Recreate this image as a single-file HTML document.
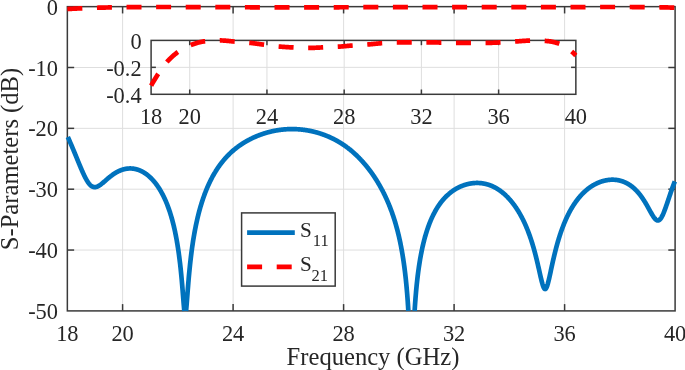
<!DOCTYPE html>
<html><head><meta charset="utf-8"><style>
html,body{margin:0;padding:0;background:#fff;overflow:hidden}
svg{display:block;font-family:"Liberation Serif",serif;fill:#262626;will-change:transform}
</style></head><body>
<svg width="685" height="370" viewBox="0 0 685 370">
<rect width="685" height="370" fill="#fff"/>
<line x1="122.60" y1="6.65" x2="122.60" y2="310.90" stroke="#dedede" stroke-width="1.0" />
<line x1="233.10" y1="6.65" x2="233.10" y2="310.90" stroke="#dedede" stroke-width="1.0" />
<line x1="343.60" y1="6.65" x2="343.60" y2="310.90" stroke="#dedede" stroke-width="1.0" />
<line x1="454.10" y1="6.65" x2="454.10" y2="310.90" stroke="#dedede" stroke-width="1.0" />
<line x1="564.60" y1="6.65" x2="564.60" y2="310.90" stroke="#dedede" stroke-width="1.0" />
<line x1="67.35" y1="67.50" x2="675.10" y2="67.50" stroke="#dedede" stroke-width="1.0" />
<line x1="67.35" y1="128.35" x2="675.10" y2="128.35" stroke="#dedede" stroke-width="1.0" />
<line x1="67.35" y1="189.20" x2="675.10" y2="189.20" stroke="#dedede" stroke-width="1.0" />
<line x1="67.35" y1="250.05" x2="675.10" y2="250.05" stroke="#dedede" stroke-width="1.0" />
<rect x="67.35" y="6.65" width="607.75" height="304.25" fill="none" stroke="#3a3a3a" stroke-width="1.5"/>
<line x1="122.60" y1="310.90" x2="122.60" y2="304.10" stroke="#3a3a3a" stroke-width="1.5" />
<line x1="122.60" y1="6.65" x2="122.60" y2="13.45" stroke="#3a3a3a" stroke-width="1.5" />
<line x1="233.10" y1="310.90" x2="233.10" y2="304.10" stroke="#3a3a3a" stroke-width="1.5" />
<line x1="233.10" y1="6.65" x2="233.10" y2="13.45" stroke="#3a3a3a" stroke-width="1.5" />
<line x1="343.60" y1="310.90" x2="343.60" y2="304.10" stroke="#3a3a3a" stroke-width="1.5" />
<line x1="343.60" y1="6.65" x2="343.60" y2="13.45" stroke="#3a3a3a" stroke-width="1.5" />
<line x1="454.10" y1="310.90" x2="454.10" y2="304.10" stroke="#3a3a3a" stroke-width="1.5" />
<line x1="454.10" y1="6.65" x2="454.10" y2="13.45" stroke="#3a3a3a" stroke-width="1.5" />
<line x1="564.60" y1="310.90" x2="564.60" y2="304.10" stroke="#3a3a3a" stroke-width="1.5" />
<line x1="564.60" y1="6.65" x2="564.60" y2="13.45" stroke="#3a3a3a" stroke-width="1.5" />
<line x1="67.35" y1="67.50" x2="74.15" y2="67.50" stroke="#3a3a3a" stroke-width="1.5" />
<line x1="675.10" y1="67.50" x2="668.30" y2="67.50" stroke="#3a3a3a" stroke-width="1.5" />
<line x1="67.35" y1="128.35" x2="74.15" y2="128.35" stroke="#3a3a3a" stroke-width="1.5" />
<line x1="675.10" y1="128.35" x2="668.30" y2="128.35" stroke="#3a3a3a" stroke-width="1.5" />
<line x1="67.35" y1="189.20" x2="74.15" y2="189.20" stroke="#3a3a3a" stroke-width="1.5" />
<line x1="675.10" y1="189.20" x2="668.30" y2="189.20" stroke="#3a3a3a" stroke-width="1.5" />
<line x1="67.35" y1="250.05" x2="74.15" y2="250.05" stroke="#3a3a3a" stroke-width="1.5" />
<line x1="675.10" y1="250.05" x2="668.30" y2="250.05" stroke="#3a3a3a" stroke-width="1.5" />
<text x="67.35" y="341.00" text-anchor="middle" font-size="22.4" >18</text>
<text x="122.60" y="341.00" text-anchor="middle" font-size="22.4" >20</text>
<text x="233.10" y="341.00" text-anchor="middle" font-size="22.4" >24</text>
<text x="343.60" y="341.00" text-anchor="middle" font-size="22.4" >28</text>
<text x="454.10" y="341.00" text-anchor="middle" font-size="22.4" >32</text>
<text x="564.60" y="341.00" text-anchor="middle" font-size="22.4" >36</text>
<text x="675.10" y="341.00" text-anchor="middle" font-size="22.4" >40</text>
<text x="58.00" y="14.75" text-anchor="end" font-size="22.4" >0</text>
<text x="58.00" y="75.60" text-anchor="end" font-size="22.4" >-10</text>
<text x="58.00" y="136.45" text-anchor="end" font-size="22.4" >-20</text>
<text x="58.00" y="197.30" text-anchor="end" font-size="22.4" >-30</text>
<text x="58.00" y="258.15" text-anchor="end" font-size="22.4" >-40</text>
<text x="58.00" y="319.00" text-anchor="end" font-size="22.4" >-50</text>
<text x="373.00" y="364.70" text-anchor="middle" font-size="24.6" >Frequency (GHz)</text>
<text transform="translate(17.6,159) rotate(-90)" text-anchor="middle" font-size="24.6">S-Parameters (dB)</text>
<path d="M67.80,136.92 L68.08,137.54 L68.35,138.15 L68.63,138.77 L68.90,139.39 L69.18,140.02 L69.46,140.64 L69.73,141.27 L70.01,141.90 L70.28,142.54 L70.56,143.18 L70.83,143.82 L71.11,144.46 L71.39,145.10 L71.66,145.75 L71.94,146.40 L72.21,147.05 L72.49,147.71 L72.77,148.36 L73.04,149.02 L73.32,149.68 L73.59,150.35 L73.87,151.01 L74.15,151.67 L74.42,152.34 L74.70,153.01 L74.97,153.68 L75.25,154.35 L75.53,155.02 L75.80,155.70 L76.08,156.37 L76.35,157.04 L76.63,157.72 L76.90,158.39 L77.18,159.07 L77.46,159.74 L77.73,160.42 L78.01,161.09 L78.28,161.77 L78.56,162.44 L78.84,163.11 L79.11,163.78 L79.39,164.44 L79.66,165.11 L79.94,165.77 L80.22,166.43 L80.49,167.09 L80.77,167.74 L81.04,168.39 L81.32,169.04 L81.60,169.68 L81.87,170.31 L82.15,170.94 L82.42,171.57 L82.70,172.18 L82.98,172.80 L83.25,173.40 L83.53,174.00 L83.80,174.59 L84.08,175.17 L84.35,175.74 L84.63,176.30 L84.91,176.85 L85.18,177.40 L85.46,177.93 L85.73,178.45 L86.01,178.96 L86.29,179.45 L86.56,179.94 L86.84,180.41 L87.11,180.86 L87.39,181.31 L87.67,181.73 L87.94,182.15 L88.22,182.55 L88.49,182.93 L88.77,183.30 L89.04,183.65 L89.32,183.98 L89.60,184.30 L89.87,184.60 L90.15,184.89 L90.42,185.15 L90.70,185.40 L90.98,185.64 L91.25,185.85 L91.53,186.05 L91.80,186.23 L92.08,186.40 L92.36,186.54 L92.63,186.67 L92.91,186.79 L93.18,186.88 L93.46,186.96 L93.74,187.03 L94.01,187.08 L94.29,187.11 L94.56,187.13 L94.84,187.13 L95.11,187.12 L95.39,187.10 L95.67,187.06 L95.94,187.01 L96.22,186.94 L96.49,186.87 L96.77,186.78 L97.05,186.68 L97.32,186.57 L97.60,186.46 L97.87,186.33 L98.15,186.19 L98.43,186.04 L98.70,185.89 L98.98,185.72 L99.25,185.55 L99.53,185.37 L99.81,185.19 L100.08,185.00 L100.36,184.80 L100.63,184.60 L100.91,184.40 L101.19,184.19 L101.46,183.97 L101.74,183.75 L102.01,183.53 L102.29,183.30 L102.56,183.08 L102.84,182.85 L103.12,182.61 L103.39,182.38 L103.67,182.14 L103.94,181.90 L104.22,181.67 L104.50,181.43 L104.77,181.19 L105.05,180.95 L105.32,180.70 L105.60,180.46 L105.88,180.22 L106.15,179.98 L106.43,179.74 L106.70,179.50 L106.98,179.27 L107.25,179.03 L107.53,178.79 L107.81,178.56 L108.08,178.33 L108.36,178.09 L108.63,177.86 L108.91,177.63 L109.19,177.41 L109.46,177.18 L109.74,176.96 L110.01,176.74 L110.29,176.52 L110.57,176.31 L110.84,176.09 L111.12,175.88 L111.39,175.67 L111.67,175.47 L111.95,175.26 L112.22,175.06 L112.50,174.86 L112.77,174.67 L113.05,174.47 L113.32,174.28 L113.60,174.10 L113.88,173.91 L114.15,173.73 L114.43,173.55 L114.70,173.37 L114.98,173.20 L115.26,173.03 L115.53,172.86 L115.81,172.70 L116.08,172.54 L116.36,172.38 L116.64,172.23 L116.91,172.07 L117.19,171.93 L117.46,171.78 L117.74,171.64 L118.02,171.50 L118.29,171.36 L118.57,171.23 L118.84,171.10 L119.12,170.97 L119.40,170.85 L119.67,170.73 L119.95,170.61 L120.22,170.49 L120.50,170.38 L120.77,170.27 L121.05,170.17 L121.33,170.07 L121.60,169.97 L121.88,169.87 L122.15,169.78 L122.43,169.69 L122.71,169.60 L122.98,169.52 L123.26,169.44 L123.53,169.36 L123.81,169.29 L124.09,169.22 L124.36,169.15 L124.64,169.09 L124.91,169.03 L125.19,168.97 L125.46,168.91 L125.74,168.86 L126.02,168.81 L126.29,168.77 L126.57,168.73 L126.84,168.69 L127.12,168.65 L127.40,168.62 L127.67,168.59 L127.95,168.56 L128.22,168.54 L128.50,168.52 L128.78,168.50 L129.05,168.49 L129.33,168.48 L129.60,168.47 L129.88,168.47 L130.16,168.46 L130.43,168.47 L130.71,168.47 L130.98,168.48 L131.26,168.49 L131.53,168.51 L131.81,168.52 L132.09,168.54 L132.36,168.57 L132.64,168.60 L132.91,168.63 L133.19,168.66 L133.47,168.70 L133.74,168.74 L134.02,168.78 L134.29,168.83 L134.57,168.88 L134.85,168.93 L135.12,168.99 L135.40,169.04 L135.67,169.11 L135.95,169.17 L136.23,169.24 L136.50,169.32 L136.78,169.39 L137.05,169.47 L137.33,169.55 L137.61,169.64 L137.88,169.73 L138.16,169.82 L138.43,169.92 L138.71,170.02 L138.98,170.12 L139.26,170.22 L139.54,170.33 L139.81,170.45 L140.09,170.56 L140.36,170.68 L140.64,170.81 L140.92,170.93 L141.19,171.06 L141.47,171.20 L141.74,171.34 L142.02,171.48 L142.30,171.62 L142.57,171.77 L142.85,171.92 L143.12,172.08 L143.40,172.24 L143.68,172.40 L143.95,172.57 L144.23,172.74 L144.50,172.91 L144.78,173.09 L145.05,173.27 L145.33,173.45 L145.61,173.64 L145.88,173.83 L146.16,174.03 L146.43,174.23 L146.71,174.44 L146.99,174.65 L147.26,174.86 L147.54,175.07 L147.81,175.29 L148.09,175.52 L148.37,175.75 L148.64,175.98 L148.92,176.22 L149.19,176.46 L149.47,176.70 L149.74,176.95 L150.02,177.21 L150.30,177.47 L150.57,177.73 L150.85,178.00 L151.12,178.27 L151.40,178.55 L151.68,178.83 L151.95,179.11 L152.23,179.40 L152.50,179.70 L152.78,180.00 L153.06,180.30 L153.33,180.61 L153.61,180.93 L153.88,181.25 L154.16,181.57 L154.44,181.91 L154.71,182.24 L154.99,182.58 L155.26,182.93 L155.54,183.28 L155.82,183.64 L156.09,184.00 L156.37,184.37 L156.64,184.74 L156.92,185.12 L157.19,185.51 L157.47,185.90 L157.75,186.30 L158.02,186.70 L158.30,187.11 L158.57,187.53 L158.85,187.96 L159.13,188.39 L159.40,188.82 L159.68,189.27 L159.95,189.72 L160.23,190.18 L160.51,190.64 L160.78,191.11 L161.06,191.59 L161.33,192.08 L161.61,192.58 L161.88,193.08 L162.16,193.59 L162.44,194.11 L162.71,194.64 L162.99,195.18 L163.26,195.73 L163.54,196.28 L163.82,196.84 L164.09,197.42 L164.37,198.00 L164.64,198.59 L164.92,199.20 L165.20,199.81 L165.47,200.44 L165.75,201.07 L166.02,201.72 L166.30,202.37 L166.58,203.04 L166.85,203.72 L167.13,204.42 L167.40,205.12 L167.68,205.84 L167.95,206.57 L168.23,207.32 L168.51,208.08 L168.78,208.85 L169.06,209.64 L169.33,210.45 L169.61,211.27 L169.89,212.11 L170.16,212.96 L170.44,213.84 L170.71,214.73 L170.99,215.63 L171.27,216.56 L171.54,217.51 L171.82,218.48 L172.09,219.47 L172.37,220.49 L172.65,221.52 L172.92,222.58 L173.20,223.67 L173.47,224.78 L173.75,225.92 L174.03,227.09 L174.30,228.29 L174.58,229.52 L174.85,230.78 L175.13,232.08 L175.40,233.41 L175.68,234.78 L175.96,236.19 L176.23,237.64 L176.51,239.13 L176.78,240.67 L177.06,242.26 L177.34,243.90 L177.61,245.59 L177.89,247.34 L178.16,249.15 L178.44,251.02 L178.72,252.96 L178.99,254.98 L179.27,257.07 L179.54,259.24 L179.82,261.49 L180.10,263.84 L180.37,266.28 L180.65,268.83 L180.92,271.48 L181.20,274.25 L181.47,277.14 L181.75,280.14 L182.03,283.27 L182.30,286.51 L182.58,289.86 L182.85,293.30 L183.13,296.80 L183.41,300.30 L183.68,303.74 L183.96,307.00 L184.23,309.93 L184.34,310.90 M186.04,310.90 L186.16,309.79 L186.44,306.79 L186.72,303.45 L186.99,299.92 L187.27,296.32 L187.54,292.72 L187.82,289.18 L188.10,285.72 L188.37,282.37 L188.65,279.14 L188.92,276.03 L189.20,273.03 L189.48,270.16 L189.75,267.40 L190.03,264.75 L190.30,262.20 L190.58,259.74 L190.86,257.38 L191.13,255.11 L191.41,252.91 L191.68,250.80 L191.96,248.75 L192.23,246.78 L192.51,244.86 L192.79,243.01 L193.06,241.22 L193.34,239.48 L193.61,237.79 L193.89,236.15 L194.17,234.55 L194.44,233.00 L194.72,231.49 L194.99,230.02 L195.27,228.58 L195.55,227.19 L195.82,225.82 L196.10,224.49 L196.37,223.20 L196.65,221.93 L196.93,220.69 L197.20,219.47 L197.48,218.29 L197.75,217.12 L198.03,215.99 L198.31,214.87 L198.58,213.78 L198.86,212.71 L199.13,211.67 L199.41,210.64 L199.68,209.63 L199.96,208.64 L200.24,207.67 L200.51,206.71 L200.79,205.78 L201.06,204.85 L201.34,203.95 L201.62,203.06 L201.89,202.19 L202.17,201.33 L202.44,200.48 L202.72,199.65 L203.00,198.83 L203.27,198.02 L203.55,197.23 L203.82,196.45 L204.10,195.68 L204.38,194.92 L204.65,194.18 L204.93,193.44 L205.20,192.72 L205.48,192.01 L205.75,191.30 L206.03,190.61 L206.31,189.93 L206.58,189.25 L206.86,188.59 L207.13,187.93 L207.41,187.29 L207.69,186.65 L207.96,186.02 L208.24,185.40 L208.51,184.78 L208.79,184.18 L209.07,183.58 L209.34,182.99 L209.62,182.41 L209.89,181.84 L210.17,181.27 L210.45,180.71 L210.72,180.16 L211.00,179.61 L211.27,179.07 L211.55,178.54 L211.82,178.01 L212.10,177.49 L212.38,176.98 L212.65,176.47 L212.93,175.97 L213.20,175.47 L213.48,174.98 L213.76,174.50 L214.03,174.02 L214.31,173.55 L214.58,173.08 L214.86,172.61 L215.14,172.16 L215.41,171.70 L215.69,171.26 L215.96,170.81 L216.24,170.38 L216.52,169.94 L216.79,169.52 L217.07,169.09 L217.34,168.67 L217.62,168.26 L217.89,167.85 L218.17,167.45 L218.45,167.04 L218.72,166.65 L219.00,166.26 L219.27,165.87 L219.55,165.48 L219.83,165.10 L220.10,164.73 L220.38,164.35 L220.65,163.98 L220.93,163.62 L221.21,163.26 L221.48,162.90 L221.76,162.55 L222.03,162.20 L222.31,161.85 L222.58,161.50 L222.86,161.16 L223.14,160.83 L223.41,160.49 L223.69,160.16 L223.96,159.84 L224.24,159.51 L224.52,159.19 L224.79,158.88 L225.07,158.56 L225.34,158.25 L225.62,157.94 L225.90,157.64 L226.17,157.34 L226.45,157.04 L226.72,156.74 L227.00,156.45 L227.28,156.16 L227.55,155.87 L227.83,155.58 L228.10,155.30 L228.38,155.02 L228.65,154.74 L228.93,154.47 L229.21,154.20 L229.48,153.93 L229.76,153.66 L230.03,153.39 L230.31,153.13 L230.59,152.87 L230.86,152.61 L231.14,152.36 L231.41,152.11 L231.69,151.86 L231.97,151.61 L232.24,151.36 L232.52,151.12 L232.79,150.88 L233.07,150.64 L233.35,150.40 L233.62,150.16 L233.90,149.93 L234.17,149.70 L234.45,149.47 L234.73,149.24 L235.00,149.02 L235.28,148.80 L235.55,148.58 L235.83,148.36 L236.10,148.14 L236.38,147.92 L236.66,147.71 L236.93,147.50 L237.21,147.29 L237.48,147.08 L237.76,146.88 L238.04,146.67 L238.31,146.47 L238.59,146.27 L238.86,146.07 L239.14,145.87 L239.42,145.68 L239.69,145.48 L239.97,145.29 L240.24,145.10 L240.52,144.91 L240.80,144.73 L241.07,144.54 L241.35,144.36 L241.62,144.17 L241.90,143.99 L242.17,143.81 L242.45,143.63 L242.73,143.46 L243.00,143.28 L243.28,143.11 L243.55,142.94 L243.83,142.77 L244.11,142.60 L244.38,142.43 L244.66,142.26 L244.93,142.10 L245.21,141.93 L245.49,141.77 L245.76,141.61 L246.04,141.45 L246.31,141.29 L246.59,141.13 L246.87,140.98 L247.14,140.82 L247.42,140.67 L247.69,140.52 L247.97,140.37 L248.24,140.22 L248.52,140.07 L248.80,139.92 L249.07,139.77 L249.35,139.63 L249.62,139.48 L249.90,139.34 L250.18,139.20 L250.45,139.06 L250.73,138.92 L251.00,138.78 L251.28,138.65 L251.56,138.51 L251.83,138.38 L252.11,138.24 L252.38,138.11 L252.66,137.98 L252.94,137.85 L253.21,137.72 L253.49,137.59 L253.76,137.47 L254.04,137.34 L254.31,137.22 L254.59,137.09 L254.87,136.97 L255.14,136.85 L255.42,136.73 L255.69,136.61 L255.97,136.49 L256.25,136.37 L256.52,136.26 L256.80,136.14 L257.07,136.03 L257.35,135.92 L257.63,135.80 L257.90,135.69 L258.18,135.58 L258.45,135.48 L258.73,135.37 L259.00,135.26 L259.28,135.15 L259.56,135.05 L259.83,134.95 L260.11,134.84 L260.38,134.74 L260.66,134.64 L260.94,134.54 L261.21,134.44 L261.49,134.34 L261.76,134.25 L262.04,134.15 L262.32,134.06 L262.59,133.96 L262.87,133.87 L263.14,133.78 L263.42,133.69 L263.70,133.60 L263.97,133.51 L264.25,133.42 L264.52,133.33 L264.80,133.25 L265.07,133.16 L265.35,133.08 L265.63,132.99 L265.90,132.91 L266.18,132.83 L266.45,132.75 L266.73,132.67 L267.01,132.59 L267.28,132.51 L267.56,132.44 L267.83,132.36 L268.11,132.28 L268.39,132.21 L268.66,132.14 L268.94,132.06 L269.21,131.99 L269.49,131.92 L269.77,131.85 L270.04,131.78 L270.32,131.72 L270.59,131.65 L270.87,131.58 L271.15,131.52 L271.42,131.45 L271.70,131.39 L271.97,131.33 L272.25,131.26 L272.52,131.20 L272.80,131.14 L273.08,131.08 L273.35,131.03 L273.63,130.97 L273.90,130.91 L274.18,130.86 L274.46,130.80 L274.73,130.75 L275.01,130.70 L275.28,130.64 L275.56,130.59 L275.84,130.54 L276.11,130.49 L276.39,130.44 L276.66,130.40 L276.94,130.35 L277.21,130.30 L277.49,130.26 L277.77,130.22 L278.04,130.17 L278.32,130.13 L278.59,130.09 L278.87,130.05 L279.15,130.01 L279.42,129.97 L279.70,129.93 L279.97,129.89 L280.25,129.86 L280.53,129.82 L280.80,129.79 L281.08,129.75 L281.35,129.72 L281.63,129.69 L281.91,129.66 L282.18,129.62 L282.46,129.60 L282.73,129.57 L283.01,129.54 L283.29,129.51 L283.56,129.49 L283.84,129.46 L284.11,129.44 L284.39,129.41 L284.66,129.39 L284.94,129.37 L285.22,129.35 L285.49,129.33 L285.77,129.31 L286.04,129.29 L286.32,129.27 L286.60,129.25 L286.87,129.24 L287.15,129.22 L287.42,129.21 L287.70,129.19 L287.98,129.18 L288.25,129.17 L288.53,129.16 L288.80,129.15 L289.08,129.14 L289.36,129.13 L289.63,129.12 L289.91,129.12 L290.18,129.11 L290.46,129.10 L290.73,129.10 L291.01,129.10 L291.29,129.09 L291.56,129.09 L291.84,129.09 L292.11,129.09 L292.39,129.09 L292.67,129.09 L292.94,129.10 L293.22,129.10 L293.49,129.10 L293.77,129.11 L294.05,129.11 L294.32,129.12 L294.60,129.13 L294.87,129.14 L295.15,129.14 L295.43,129.15 L295.70,129.16 L295.98,129.18 L296.25,129.19 L296.53,129.20 L296.80,129.22 L297.08,129.23 L297.36,129.25 L297.63,129.26 L297.91,129.28 L298.18,129.30 L298.46,129.32 L298.74,129.34 L299.01,129.36 L299.29,129.38 L299.56,129.40 L299.84,129.42 L300.12,129.45 L300.39,129.47 L300.67,129.50 L300.94,129.53 L301.22,129.55 L301.49,129.58 L301.77,129.61 L302.05,129.64 L302.32,129.67 L302.60,129.70 L302.87,129.74 L303.15,129.77 L303.43,129.80 L303.70,129.84 L303.98,129.87 L304.25,129.91 L304.53,129.95 L304.81,129.99 L305.08,130.03 L305.36,130.07 L305.63,130.11 L305.91,130.15 L306.19,130.19 L306.46,130.23 L306.74,130.28 L307.01,130.32 L307.29,130.37 L307.56,130.42 L307.84,130.46 L308.12,130.51 L308.39,130.56 L308.67,130.61 L308.94,130.66 L309.22,130.72 L309.50,130.77 L309.77,130.82 L310.05,130.88 L310.32,130.93 L310.60,130.99 L310.88,131.05 L311.15,131.11 L311.43,131.16 L311.70,131.22 L311.98,131.29 L312.26,131.35 L312.53,131.41 L312.81,131.47 L313.08,131.54 L313.36,131.60 L313.63,131.67 L313.91,131.74 L314.19,131.80 L314.46,131.87 L314.74,131.94 L315.01,132.01 L315.29,132.09 L315.57,132.16 L315.84,132.23 L316.12,132.31 L316.39,132.38 L316.67,132.46 L316.95,132.53 L317.22,132.61 L317.50,132.69 L317.77,132.77 L318.05,132.85 L318.33,132.93 L318.60,133.02 L318.88,133.10 L319.15,133.18 L319.43,133.27 L319.71,133.36 L319.98,133.44 L320.26,133.53 L320.53,133.62 L320.81,133.71 L321.08,133.80 L321.36,133.89 L321.64,133.99 L321.91,134.08 L322.19,134.18 L322.46,134.27 L322.74,134.37 L323.02,134.47 L323.29,134.57 L323.57,134.67 L323.84,134.77 L324.12,134.87 L324.40,134.97 L324.67,135.08 L324.95,135.18 L325.22,135.29 L325.50,135.39 L325.78,135.50 L326.05,135.61 L326.33,135.72 L326.60,135.83 L326.88,135.95 L327.15,136.06 L327.43,136.17 L327.71,136.29 L327.98,136.41 L328.26,136.52 L328.53,136.64 L328.81,136.76 L329.09,136.88 L329.36,137.00 L329.64,137.13 L329.91,137.25 L330.19,137.38 L330.47,137.50 L330.74,137.63 L331.02,137.76 L331.29,137.89 L331.57,138.02 L331.85,138.15 L332.12,138.28 L332.40,138.42 L332.67,138.55 L332.95,138.69 L333.22,138.83 L333.50,138.97 L333.78,139.11 L334.05,139.25 L334.33,139.39 L334.60,139.53 L334.88,139.68 L335.16,139.83 L335.43,139.97 L335.71,140.12 L335.98,140.27 L336.26,140.42 L336.54,140.57 L336.81,140.73 L337.09,140.88 L337.36,141.04 L337.64,141.19 L337.92,141.35 L338.19,141.51 L338.47,141.67 L338.74,141.84 L339.02,142.00 L339.29,142.16 L339.57,142.33 L339.85,142.50 L340.12,142.67 L340.40,142.84 L340.67,143.01 L340.95,143.18 L341.23,143.35 L341.50,143.53 L341.78,143.71 L342.05,143.89 L342.33,144.06 L342.61,144.25 L342.88,144.43 L343.16,144.61 L343.43,144.80 L343.71,144.98 L343.98,145.17 L344.26,145.36 L344.54,145.55 L344.81,145.74 L345.09,145.94 L345.36,146.13 L345.64,146.33 L345.92,146.53 L346.19,146.73 L346.47,146.93 L346.74,147.13 L347.02,147.34 L347.30,147.54 L347.57,147.75 L347.85,147.96 L348.12,148.17 L348.40,148.38 L348.68,148.59 L348.95,148.81 L349.23,149.03 L349.50,149.24 L349.78,149.46 L350.06,149.69 L350.33,149.91 L350.61,150.13 L350.88,150.36 L351.16,150.59 L351.43,150.82 L351.71,151.05 L351.99,151.28 L352.26,151.52 L352.54,151.76 L352.81,151.99 L353.09,152.23 L353.37,152.48 L353.64,152.72 L353.92,152.97 L354.19,153.21 L354.47,153.46 L354.75,153.71 L355.02,153.97 L355.30,154.22 L355.57,154.48 L355.85,154.74 L356.13,155.00 L356.40,155.26 L356.68,155.52 L356.95,155.79 L357.23,156.06 L357.50,156.33 L357.78,156.60 L358.06,156.87 L358.33,157.15 L358.61,157.42 L358.88,157.70 L359.16,157.98 L359.44,158.27 L359.71,158.55 L359.99,158.84 L360.26,159.13 L360.54,159.42 L360.82,159.71 L361.09,160.01 L361.37,160.30 L361.64,160.60 L361.92,160.90 L362.20,161.21 L362.47,161.51 L362.75,161.82 L363.02,162.13 L363.30,162.44 L363.57,162.76 L363.85,163.07 L364.13,163.39 L364.40,163.71 L364.68,164.03 L364.95,164.36 L365.23,164.68 L365.51,165.01 L365.78,165.34 L366.06,165.68 L366.33,166.01 L366.61,166.35 L366.89,166.69 L367.16,167.04 L367.44,167.38 L367.71,167.73 L367.99,168.08 L368.27,168.43 L368.54,168.79 L368.82,169.15 L369.09,169.51 L369.37,169.87 L369.64,170.23 L369.92,170.60 L370.20,170.97 L370.47,171.34 L370.75,171.72 L371.02,172.10 L371.30,172.48 L371.58,172.86 L371.85,173.25 L372.13,173.64 L372.40,174.03 L372.68,174.43 L372.96,174.83 L373.23,175.23 L373.51,175.63 L373.78,176.04 L374.06,176.45 L374.33,176.86 L374.61,177.28 L374.89,177.70 L375.16,178.12 L375.44,178.55 L375.71,178.97 L375.99,179.41 L376.27,179.84 L376.54,180.28 L376.82,180.72 L377.09,181.17 L377.37,181.62 L377.65,182.07 L377.92,182.53 L378.20,182.99 L378.47,183.46 L378.75,183.92 L379.03,184.40 L379.30,184.87 L379.58,185.35 L379.85,185.84 L380.13,186.33 L380.40,186.82 L380.68,187.31 L380.96,187.82 L381.23,188.32 L381.51,188.83 L381.78,189.35 L382.06,189.86 L382.34,190.39 L382.61,190.92 L382.89,191.45 L383.16,191.99 L383.44,192.53 L383.72,193.08 L383.99,193.64 L384.27,194.19 L384.54,194.76 L384.82,195.33 L385.10,195.91 L385.37,196.49 L385.65,197.08 L385.92,197.67 L386.20,198.27 L386.48,198.87 L386.75,199.49 L387.03,200.11 L387.30,200.73 L387.58,201.37 L387.85,202.00 L388.13,202.65 L388.41,203.31 L388.68,203.97 L388.96,204.64 L389.23,205.31 L389.51,206.00 L389.79,206.69 L390.06,207.40 L390.34,208.11 L390.61,208.83 L390.89,209.56 L391.17,210.29 L391.44,211.04 L391.72,211.80 L391.99,212.57 L392.27,213.35 L392.54,214.14 L392.82,214.94 L393.10,215.75 L393.37,216.58 L393.65,217.42 L393.92,218.27 L394.20,219.13 L394.48,220.01 L394.75,220.90 L395.03,221.80 L395.30,222.72 L395.58,223.66 L395.86,224.61 L396.13,225.58 L396.41,226.56 L396.68,227.57 L396.96,228.59 L397.24,229.63 L397.51,230.69 L397.79,231.77 L398.06,232.88 L398.34,234.00 L398.62,235.15 L398.89,236.33 L399.17,237.53 L399.44,238.76 L399.72,240.01 L399.99,241.29 L400.27,242.61 L400.55,243.96 L400.82,245.34 L401.10,246.75 L401.37,248.21 L401.65,249.70 L401.93,251.24 L402.20,252.82 L402.48,254.45 L402.75,256.12 L403.03,257.85 L403.31,259.64 L403.58,261.49 L403.86,263.40 L404.13,265.38 L404.41,267.44 L404.69,269.58 L404.96,271.80 L405.24,274.12 L405.51,276.54 L405.79,279.08 L406.06,281.74 L406.34,284.53 L406.62,287.48 L406.89,290.60 L407.17,293.90 L407.44,297.42 L407.72,301.19 L408.00,305.23 L408.27,309.60 L408.35,310.90 M414.62,310.90 L414.89,306.65 L415.17,302.68 L415.45,299.00 L415.72,295.56 L416.00,292.33 L416.27,289.30 L416.55,286.43 L416.82,283.72 L417.10,281.15 L417.38,278.70 L417.65,276.37 L417.93,274.14 L418.20,272.01 L418.48,269.96 L418.76,268.00 L419.03,266.11 L419.31,264.29 L419.58,262.54 L419.86,260.85 L420.14,259.21 L420.41,257.63 L420.69,256.10 L420.96,254.62 L421.24,253.19 L421.52,251.79 L421.79,250.44 L422.07,249.12 L422.34,247.84 L422.62,246.60 L422.90,245.39 L423.17,244.21 L423.45,243.06 L423.72,241.94 L424.00,240.85 L424.27,239.78 L424.55,238.74 L424.83,237.72 L425.10,236.73 L425.38,235.76 L425.65,234.81 L425.93,233.88 L426.21,232.97 L426.48,232.08 L426.76,231.21 L427.03,230.36 L427.31,229.52 L427.59,228.71 L427.86,227.90 L428.14,227.12 L428.41,226.35 L428.69,225.59 L428.97,224.85 L429.24,224.12 L429.52,223.41 L429.79,222.71 L430.07,222.02 L430.34,221.35 L430.62,220.69 L430.90,220.03 L431.17,219.39 L431.45,218.77 L431.72,218.15 L432.00,217.54 L432.28,216.95 L432.55,216.36 L432.83,215.78 L433.10,215.22 L433.38,214.66 L433.66,214.11 L433.93,213.57 L434.21,213.04 L434.48,212.52 L434.76,212.01 L435.04,211.50 L435.31,211.00 L435.59,210.52 L435.86,210.03 L436.14,209.56 L436.41,209.09 L436.69,208.63 L436.97,208.18 L437.24,207.74 L437.52,207.30 L437.79,206.87 L438.07,206.44 L438.35,206.02 L438.62,205.61 L438.90,205.20 L439.17,204.80 L439.45,204.41 L439.73,204.02 L440.00,203.64 L440.28,203.26 L440.55,202.89 L440.83,202.52 L441.11,202.16 L441.38,201.81 L441.66,201.46 L441.93,201.11 L442.21,200.77 L442.48,200.44 L442.76,200.11 L443.04,199.78 L443.31,199.46 L443.59,199.15 L443.86,198.83 L444.14,198.53 L444.42,198.23 L444.69,197.93 L444.97,197.63 L445.24,197.34 L445.52,197.06 L445.80,196.78 L446.07,196.50 L446.35,196.23 L446.62,195.96 L446.90,195.69 L447.18,195.43 L447.45,195.18 L447.73,194.92 L448.00,194.67 L448.28,194.43 L448.55,194.18 L448.83,193.94 L449.11,193.71 L449.38,193.47 L449.66,193.25 L449.93,193.02 L450.21,192.80 L450.49,192.58 L450.76,192.36 L451.04,192.15 L451.31,191.94 L451.59,191.74 L451.87,191.53 L452.14,191.33 L452.42,191.14 L452.69,190.94 L452.97,190.75 L453.24,190.56 L453.52,190.38 L453.80,190.19 L454.07,190.01 L454.35,189.84 L454.62,189.66 L454.90,189.49 L455.18,189.32 L455.45,189.16 L455.73,188.99 L456.00,188.83 L456.28,188.67 L456.56,188.52 L456.83,188.36 L457.11,188.21 L457.38,188.06 L457.66,187.92 L457.94,187.77 L458.21,187.63 L458.49,187.49 L458.76,187.36 L459.04,187.22 L459.31,187.09 L459.59,186.96 L459.87,186.83 L460.14,186.71 L460.42,186.59 L460.69,186.47 L460.97,186.35 L461.25,186.23 L461.52,186.12 L461.80,186.00 L462.07,185.89 L462.35,185.79 L462.63,185.68 L462.90,185.58 L463.18,185.47 L463.45,185.38 L463.73,185.28 L464.01,185.18 L464.28,185.09 L464.56,185.00 L464.83,184.91 L465.11,184.82 L465.38,184.74 L465.66,184.65 L465.94,184.57 L466.21,184.49 L466.49,184.42 L466.76,184.34 L467.04,184.27 L467.32,184.20 L467.59,184.13 L467.87,184.06 L468.14,183.99 L468.42,183.93 L468.70,183.87 L468.97,183.81 L469.25,183.75 L469.52,183.70 L469.80,183.65 L470.08,183.60 L470.35,183.55 L470.63,183.50 L470.90,183.45 L471.18,183.41 L471.46,183.37 L471.73,183.33 L472.01,183.29 L472.28,183.26 L472.56,183.22 L472.83,183.19 L473.11,183.16 L473.39,183.13 L473.66,183.11 L473.94,183.09 L474.21,183.06 L474.49,183.04 L474.77,183.03 L475.04,183.01 L475.32,183.00 L475.59,182.99 L475.87,182.98 L476.15,182.97 L476.42,182.96 L476.70,182.96 L476.97,182.96 L477.25,182.96 L477.53,182.96 L477.80,182.97 L478.08,182.97 L478.35,182.98 L478.63,182.99 L478.90,183.00 L479.18,183.02 L479.46,183.03 L479.73,183.05 L480.01,183.07 L480.28,183.10 L480.56,183.12 L480.84,183.15 L481.11,183.18 L481.39,183.21 L481.66,183.24 L481.94,183.28 L482.22,183.31 L482.49,183.35 L482.77,183.40 L483.04,183.44 L483.32,183.49 L483.60,183.53 L483.87,183.58 L484.15,183.64 L484.42,183.69 L484.70,183.75 L484.97,183.81 L485.25,183.87 L485.53,183.93 L485.80,183.99 L486.08,184.06 L486.35,184.13 L486.63,184.20 L486.91,184.28 L487.18,184.36 L487.46,184.43 L487.73,184.52 L488.01,184.60 L488.29,184.68 L488.56,184.77 L488.84,184.86 L489.11,184.96 L489.39,185.05 L489.66,185.15 L489.94,185.25 L490.22,185.35 L490.49,185.45 L490.77,185.56 L491.04,185.67 L491.32,185.78 L491.60,185.90 L491.87,186.01 L492.15,186.13 L492.42,186.25 L492.70,186.38 L492.98,186.50 L493.25,186.63 L493.53,186.76 L493.80,186.90 L494.08,187.04 L494.36,187.18 L494.63,187.32 L494.91,187.46 L495.18,187.61 L495.46,187.76 L495.73,187.91 L496.01,188.07 L496.29,188.23 L496.56,188.39 L496.84,188.55 L497.11,188.72 L497.39,188.89 L497.67,189.06 L497.94,189.23 L498.22,189.41 L498.49,189.59 L498.77,189.77 L499.05,189.96 L499.32,190.15 L499.60,190.34 L499.87,190.53 L500.15,190.73 L500.43,190.93 L500.70,191.13 L500.98,191.34 L501.25,191.55 L501.53,191.76 L501.81,191.98 L502.08,192.19 L502.36,192.41 L502.63,192.64 L502.91,192.87 L503.18,193.10 L503.46,193.33 L503.74,193.57 L504.01,193.81 L504.29,194.05 L504.56,194.29 L504.84,194.54 L505.12,194.79 L505.39,195.05 L505.67,195.31 L505.94,195.57 L506.22,195.84 L506.50,196.10 L506.77,196.38 L507.05,196.65 L507.32,196.93 L507.60,197.21 L507.88,197.50 L508.15,197.79 L508.43,198.08 L508.70,198.37 L508.98,198.67 L509.25,198.98 L509.53,199.28 L509.81,199.60 L510.08,199.91 L510.36,200.23 L510.63,200.55 L510.91,200.88 L511.19,201.21 L511.46,201.54 L511.74,201.88 L512.01,202.22 L512.29,202.56 L512.57,202.91 L512.84,203.27 L513.12,203.62 L513.39,203.99 L513.67,204.35 L513.95,204.72 L514.22,205.10 L514.50,205.48 L514.77,205.86 L515.05,206.25 L515.32,206.65 L515.60,207.04 L515.88,207.45 L516.15,207.85 L516.43,208.27 L516.70,208.68 L516.98,209.10 L517.26,209.53 L517.53,209.96 L517.81,210.40 L518.08,210.84 L518.36,211.29 L518.64,211.75 L518.91,212.21 L519.19,212.67 L519.46,213.14 L519.74,213.62 L520.01,214.10 L520.29,214.59 L520.57,215.08 L520.84,215.58 L521.12,216.09 L521.39,216.60 L521.67,217.12 L521.95,217.64 L522.22,218.18 L522.50,218.72 L522.77,219.26 L523.05,219.82 L523.33,220.38 L523.60,220.94 L523.88,221.52 L524.15,222.10 L524.43,222.69 L524.71,223.29 L524.98,223.90 L525.26,224.51 L525.53,225.13 L525.81,225.76 L526.09,226.40 L526.36,227.05 L526.64,227.71 L526.91,228.38 L527.19,229.05 L527.46,229.74 L527.74,230.43 L528.02,231.14 L528.29,231.85 L528.57,232.58 L528.84,233.32 L529.12,234.06 L529.40,234.82 L529.67,235.59 L529.95,236.37 L530.22,237.16 L530.50,237.97 L530.78,238.79 L531.05,239.61 L531.33,240.46 L531.60,241.31 L531.88,242.18 L532.15,243.06 L532.43,243.95 L532.71,244.86 L532.98,245.79 L533.26,246.72 L533.53,247.67 L533.81,248.64 L534.09,249.62 L534.36,250.62 L534.64,251.63 L534.91,252.66 L535.19,253.70 L535.47,254.76 L535.74,255.83 L536.02,256.92 L536.29,258.02 L536.57,259.14 L536.85,260.28 L537.12,261.43 L537.40,262.59 L537.67,263.76 L537.95,264.95 L538.22,266.15 L538.50,267.35 L538.78,268.57 L539.05,269.79 L539.33,271.02 L539.60,272.24 L539.88,273.47 L540.16,274.69 L540.43,275.90 L540.71,277.10 L540.98,278.28 L541.26,279.43 L541.54,280.56 L541.81,281.65 L542.09,282.69 L542.36,283.69 L542.64,284.62 L542.92,285.49 L543.19,286.28 L543.47,286.98 L543.74,287.59 L544.02,288.11 L544.29,288.51 L544.57,288.80 L544.85,288.98 L545.12,289.04 L545.40,288.97 L545.67,288.79 L545.95,288.49 L546.23,288.07 L546.50,287.54 L546.78,286.91 L547.05,286.19 L547.33,285.38 L547.61,284.48 L547.88,283.52 L548.16,282.49 L548.43,281.41 L548.71,280.28 L548.99,279.12 L549.26,277.92 L549.54,276.69 L549.81,275.45 L550.09,274.18 L550.37,272.91 L550.64,271.64 L550.92,270.35 L551.19,269.07 L551.47,267.80 L551.74,266.53 L552.02,265.26 L552.30,264.01 L552.57,262.76 L552.85,261.53 L553.12,260.31 L553.40,259.11 L553.68,257.92 L553.95,256.74 L554.23,255.58 L554.50,254.44 L554.78,253.31 L555.06,252.20 L555.33,251.10 L555.61,250.02 L555.88,248.95 L556.16,247.91 L556.44,246.87 L556.71,245.85 L556.99,244.85 L557.26,243.86 L557.54,242.89 L557.81,241.94 L558.09,240.99 L558.37,240.06 L558.64,239.15 L558.92,238.25 L559.19,237.36 L559.47,236.49 L559.75,235.63 L560.02,234.78 L560.30,233.95 L560.57,233.12 L560.85,232.31 L561.13,231.52 L561.40,230.73 L561.68,229.95 L561.95,229.19 L562.23,228.44 L562.50,227.70 L562.78,226.97 L563.06,226.25 L563.33,225.54 L563.61,224.84 L563.88,224.14 L564.16,223.46 L564.44,222.79 L564.71,222.13 L564.99,221.48 L565.26,220.84 L565.54,220.20 L565.82,219.58 L566.09,218.96 L566.37,218.35 L566.64,217.75 L566.92,217.16 L567.20,216.58 L567.47,216.00 L567.75,215.43 L568.02,214.87 L568.30,214.32 L568.58,213.77 L568.85,213.24 L569.13,212.70 L569.40,212.18 L569.68,211.66 L569.95,211.15 L570.23,210.65 L570.51,210.15 L570.78,209.66 L571.06,209.18 L571.33,208.70 L571.61,208.23 L571.89,207.76 L572.16,207.31 L572.44,206.85 L572.71,206.40 L572.99,205.96 L573.27,205.53 L573.54,205.10 L573.82,204.67 L574.09,204.25 L574.37,203.84 L574.65,203.43 L574.92,203.02 L575.20,202.63 L575.47,202.23 L575.75,201.84 L576.02,201.46 L576.30,201.08 L576.58,200.71 L576.85,200.34 L577.13,199.97 L577.40,199.61 L577.68,199.26 L577.96,198.91 L578.23,198.56 L578.51,198.22 L578.78,197.88 L579.06,197.55 L579.34,197.22 L579.61,196.90 L579.89,196.58 L580.16,196.26 L580.44,195.95 L580.72,195.64 L580.99,195.33 L581.27,195.03 L581.54,194.74 L581.82,194.44 L582.09,194.15 L582.37,193.87 L582.65,193.59 L582.92,193.31 L583.20,193.03 L583.47,192.76 L583.75,192.50 L584.03,192.23 L584.30,191.97 L584.58,191.71 L584.85,191.46 L585.13,191.21 L585.41,190.96 L585.68,190.72 L585.96,190.48 L586.23,190.24 L586.51,190.01 L586.79,189.78 L587.06,189.55 L587.34,189.33 L587.61,189.11 L587.89,188.89 L588.16,188.68 L588.44,188.46 L588.72,188.25 L588.99,188.05 L589.27,187.85 L589.54,187.65 L589.82,187.45 L590.10,187.25 L590.37,187.06 L590.65,186.88 L590.92,186.69 L591.20,186.51 L591.48,186.33 L591.75,186.15 L592.03,185.97 L592.30,185.80 L592.58,185.63 L592.86,185.47 L593.13,185.30 L593.41,185.14 L593.68,184.98 L593.96,184.83 L594.23,184.67 L594.51,184.52 L594.79,184.37 L595.06,184.23 L595.34,184.09 L595.61,183.94 L595.89,183.81 L596.17,183.67 L596.44,183.54 L596.72,183.41 L596.99,183.28 L597.27,183.15 L597.55,183.03 L597.82,182.91 L598.10,182.79 L598.37,182.67 L598.65,182.56 L598.92,182.44 L599.20,182.33 L599.48,182.23 L599.75,182.12 L600.03,182.02 L600.30,181.92 L600.58,181.82 L600.86,181.73 L601.13,181.63 L601.41,181.54 L601.68,181.45 L601.96,181.36 L602.24,181.28 L602.51,181.20 L602.79,181.12 L603.06,181.04 L603.34,180.96 L603.62,180.89 L603.89,180.82 L604.17,180.75 L604.44,180.68 L604.72,180.62 L604.99,180.55 L605.27,180.49 L605.55,180.43 L605.82,180.38 L606.10,180.32 L606.37,180.27 L606.65,180.22 L606.93,180.18 L607.20,180.13 L607.48,180.09 L607.75,180.05 L608.03,180.01 L608.31,179.97 L608.58,179.94 L608.86,179.91 L609.13,179.88 L609.41,179.85 L609.69,179.82 L609.96,179.80 L610.24,179.78 L610.51,179.76 L610.79,179.75 L611.06,179.73 L611.34,179.72 L611.62,179.71 L611.89,179.71 L612.17,179.70 L612.44,179.70 L612.72,179.70 L613.00,179.71 L613.27,179.71 L613.55,179.72 L613.82,179.73 L614.10,179.74 L614.38,179.76 L614.65,179.77 L614.93,179.79 L615.20,179.82 L615.48,179.84 L615.76,179.87 L616.03,179.90 L616.31,179.93 L616.58,179.97 L616.86,180.01 L617.13,180.05 L617.41,180.09 L617.69,180.13 L617.96,180.18 L618.24,180.23 L618.51,180.29 L618.79,180.34 L619.07,180.40 L619.34,180.46 L619.62,180.53 L619.89,180.59 L620.17,180.66 L620.45,180.74 L620.72,180.81 L621.00,180.89 L621.27,180.97 L621.55,181.05 L621.83,181.14 L622.10,181.23 L622.38,181.32 L622.65,181.42 L622.93,181.52 L623.20,181.62 L623.48,181.72 L623.76,181.83 L624.03,181.94 L624.31,182.06 L624.58,182.17 L624.86,182.30 L625.14,182.42 L625.41,182.55 L625.69,182.68 L625.96,182.81 L626.24,182.95 L626.52,183.09 L626.79,183.23 L627.07,183.38 L627.34,183.53 L627.62,183.68 L627.90,183.84 L628.17,184.00 L628.45,184.16 L628.72,184.33 L629.00,184.50 L629.27,184.68 L629.55,184.86 L629.83,185.04 L630.10,185.23 L630.38,185.42 L630.65,185.62 L630.93,185.81 L631.21,186.02 L631.48,186.22 L631.76,186.43 L632.03,186.65 L632.31,186.87 L632.59,187.09 L632.86,187.32 L633.14,187.55 L633.41,187.78 L633.69,188.03 L633.97,188.27 L634.24,188.52 L634.52,188.77 L634.79,189.03 L635.07,189.29 L635.34,189.56 L635.62,189.83 L635.90,190.11 L636.17,190.39 L636.45,190.67 L636.72,190.96 L637.00,191.26 L637.28,191.56 L637.55,191.87 L637.83,192.18 L638.10,192.49 L638.38,192.81 L638.66,193.14 L638.93,193.47 L639.21,193.80 L639.48,194.14 L639.76,194.49 L640.04,194.84 L640.31,195.20 L640.59,195.56 L640.86,195.93 L641.14,196.30 L641.41,196.68 L641.69,197.06 L641.97,197.45 L642.24,197.85 L642.52,198.25 L642.79,198.65 L643.07,199.06 L643.35,199.48 L643.62,199.90 L643.90,200.33 L644.17,200.76 L644.45,201.20 L644.73,201.64 L645.00,202.09 L645.28,202.54 L645.55,203.00 L645.83,203.46 L646.11,203.93 L646.38,204.40 L646.66,204.87 L646.93,205.35 L647.21,205.84 L647.49,206.32 L647.76,206.81 L648.04,207.30 L648.31,207.80 L648.59,208.30 L648.86,208.80 L649.14,209.30 L649.42,209.80 L649.69,210.30 L649.97,210.80 L650.24,211.29 L650.52,211.79 L650.80,212.29 L651.07,212.78 L651.35,213.26 L651.62,213.74 L651.90,214.22 L652.18,214.69 L652.45,215.14 L652.73,215.59 L653.00,216.03 L653.28,216.46 L653.56,216.87 L653.83,217.27 L654.11,217.65 L654.38,218.02 L654.66,218.36 L654.93,218.69 L655.21,218.99 L655.49,219.27 L655.76,219.52 L656.04,219.75 L656.31,219.94 L656.59,220.11 L656.87,220.25 L657.14,220.36 L657.42,220.43 L657.69,220.47 L657.97,220.48 L658.25,220.44 L658.52,220.38 L658.80,220.27 L659.07,220.13 L659.35,219.95 L659.62,219.74 L659.90,219.48 L660.18,219.19 L660.45,218.87 L660.73,218.51 L661.00,218.11 L661.28,217.69 L661.56,217.23 L661.83,216.73 L662.11,216.21 L662.38,215.66 L662.66,215.09 L662.94,214.49 L663.21,213.86 L663.49,213.21 L663.76,212.54 L664.04,211.86 L664.32,211.15 L664.59,210.43 L664.87,209.69 L665.14,208.94 L665.42,208.18 L665.69,207.40 L665.97,206.62 L666.25,205.83 L666.52,205.03 L666.80,204.23 L667.07,203.42 L667.35,202.61 L667.63,201.79 L667.90,200.98 L668.18,200.16 L668.45,199.34 L668.73,198.52 L669.01,197.70 L669.28,196.88 L669.56,196.07 L669.83,195.26 L670.11,194.45 L670.39,193.64 L670.66,192.84 L670.94,192.04 L671.21,191.25 L671.49,190.46 L671.76,189.68 L672.04,188.90 L672.32,188.13 L672.59,187.37 L672.87,186.61 L673.14,185.86 L673.42,185.11 L673.70,184.37 L673.97,183.64 L674.25,182.91 L674.52,182.19 L674.80,181.48" fill="none" stroke="#0072bd" stroke-width="4.7" stroke-linejoin="round"/>
<path d="M67.35,9.04 L67.90,9.01 L68.45,8.98 L69.01,8.95 L69.56,8.92 L70.11,8.89 L70.67,8.86 L71.22,8.83 L71.77,8.80 L72.32,8.77 L72.87,8.74 L73.43,8.72 L73.98,8.69 L74.53,8.66 L75.09,8.63 L75.64,8.60 L76.19,8.58 L76.74,8.55 L77.29,8.52 L77.85,8.50 L78.40,8.47 L78.95,8.45 L79.51,8.42 L80.06,8.39 L80.61,8.37 L81.16,8.34 L81.71,8.32 L82.27,8.29 L82.82,8.27 L83.37,8.24 L83.93,8.22 L84.48,8.20 L85.03,8.17 L85.58,8.15 L86.13,8.12 L86.69,8.10 L87.24,8.08 L87.79,8.06 L88.35,8.04 L88.90,8.01 L89.45,7.99 L90.00,7.97 L90.55,7.95 L91.11,7.94 L91.66,7.92 L92.21,7.90 L92.77,7.88 L93.32,7.86 L93.87,7.85 L94.42,7.83 L94.97,7.81 L95.53,7.79 L96.08,7.78 L96.63,7.76 L97.18,7.74 L97.74,7.73 L98.29,7.71 L98.84,7.70 L99.40,7.68 L99.95,7.67 L100.50,7.65 L101.05,7.64 L101.60,7.62 L102.16,7.61 L102.71,7.60 L103.26,7.58 L103.81,7.57 L104.37,7.56 L104.92,7.54 L105.47,7.53 L106.02,7.52 L106.58,7.51 L107.13,7.50 L107.68,7.48 L108.24,7.47 L108.79,7.46 L109.34,7.45 L109.89,7.44 L110.44,7.43 L111.00,7.42 L111.55,7.41 L112.10,7.40 L112.66,7.39 L113.21,7.38 L113.76,7.37 L114.31,7.36 L114.86,7.35 L115.42,7.34 L115.97,7.33 L116.52,7.32 L117.08,7.31 L117.63,7.30 L118.18,7.29 L118.73,7.28 L119.28,7.27 L119.84,7.26 L120.39,7.26 L120.94,7.25 L121.50,7.24 L122.05,7.23 L122.60,7.23 L123.15,7.22 L123.70,7.21 L124.26,7.21 L124.81,7.20 L125.36,7.19 L125.92,7.19 L126.47,7.18 L127.02,7.18 L127.57,7.17 L128.12,7.16 L128.68,7.16 L129.23,7.15 L129.78,7.15 L130.34,7.14 L130.89,7.14 L131.44,7.13 L131.99,7.13 L132.54,7.12 L133.10,7.11 L133.65,7.11 L134.20,7.10 L134.76,7.10 L135.31,7.10 L135.86,7.09 L136.41,7.09 L136.96,7.08 L137.52,7.08 L138.07,7.07 L138.62,7.07 L139.18,7.07 L139.73,7.06 L140.28,7.06 L140.83,7.06 L141.38,7.05 L141.94,7.05 L142.49,7.05 L143.04,7.04 L143.60,7.04 L144.15,7.04 L144.70,7.04 L145.25,7.04 L145.81,7.04 L146.36,7.03 L146.91,7.03 L147.46,7.03 L148.02,7.03 L148.57,7.03 L149.12,7.03 L149.67,7.03 L150.22,7.02 L150.78,7.02 L151.33,7.02 L151.88,7.02 L152.43,7.02 L152.99,7.02 L153.54,7.02 L154.09,7.02 L154.64,7.02 L155.20,7.01 L155.75,7.01 L156.30,7.01 L156.86,7.01 L157.41,7.01 L157.96,7.01 L158.51,7.01 L159.06,7.01 L159.62,7.01 L160.17,7.01 L160.72,7.01 L161.27,7.01 L161.83,7.01 L162.38,7.01 L162.93,7.00 L163.49,7.00 L164.04,7.00 L164.59,7.00 L165.14,7.00 L165.69,7.00 L166.25,7.00 L166.80,7.00 L167.35,7.00 L167.91,7.00 L168.46,7.00 L169.01,7.00 L169.56,7.00 L170.11,7.01 L170.67,7.01 L171.22,7.01 L171.77,7.01 L172.32,7.01 L172.88,7.01 L173.43,7.01 L173.98,7.01 L174.53,7.01 L175.09,7.02 L175.64,7.02 L176.19,7.02 L176.75,7.02 L177.30,7.02 L177.85,7.02 L178.40,7.03 L178.95,7.03 L179.51,7.03 L180.06,7.03 L180.61,7.03 L181.17,7.04 L181.72,7.04 L182.27,7.04 L182.82,7.04 L183.38,7.04 L183.93,7.05 L184.48,7.05 L185.03,7.05 L185.59,7.05 L186.14,7.05 L186.69,7.05 L187.24,7.06 L187.79,7.06 L188.35,7.06 L188.90,7.06 L189.45,7.06 L190.01,7.06 L190.56,7.06 L191.11,7.07 L191.66,7.07 L192.21,7.07 L192.77,7.07 L193.32,7.07 L193.87,7.07 L194.43,7.07 L194.98,7.08 L195.53,7.08 L196.08,7.08 L196.63,7.08 L197.19,7.08 L197.74,7.08 L198.29,7.08 L198.84,7.08 L199.40,7.09 L199.95,7.09 L200.50,7.09 L201.05,7.09 L201.61,7.09 L202.16,7.09 L202.71,7.09 L203.27,7.10 L203.82,7.10 L204.37,7.10 L204.92,7.10 L205.47,7.10 L206.03,7.10 L206.58,7.10 L207.13,7.11 L207.68,7.11 L208.24,7.11 L208.79,7.11 L209.34,7.11 L209.90,7.11 L210.45,7.12 L211.00,7.12 L211.55,7.12 L212.11,7.12 L212.66,7.12 L213.21,7.13 L213.76,7.13 L214.31,7.13 L214.87,7.13 L215.42,7.14 L215.97,7.14 L216.52,7.14 L217.08,7.14 L217.63,7.14 L218.18,7.15 L218.74,7.15 L219.29,7.15 L219.84,7.15 L220.39,7.16 L220.95,7.16 L221.50,7.16 L222.05,7.16 L222.60,7.17 L223.16,7.17 L223.71,7.17 L224.26,7.17 L224.81,7.18 L225.36,7.18 L225.92,7.18 L226.47,7.18 L227.02,7.19 L227.58,7.19 L228.13,7.19 L228.68,7.19 L229.23,7.20 L229.78,7.20 L230.34,7.20 L230.89,7.20 L231.44,7.20 L232.00,7.21 L232.55,7.21 L233.10,7.21 L233.65,7.21 L234.20,7.22 L234.76,7.22 L235.31,7.22 L235.86,7.22 L236.42,7.22 L236.97,7.23 L237.52,7.23 L238.07,7.23 L238.62,7.23 L239.18,7.24 L239.73,7.24 L240.28,7.24 L240.84,7.24 L241.39,7.24 L241.94,7.25 L242.49,7.25 L243.04,7.25 L243.60,7.25 L244.15,7.26 L244.70,7.26 L245.26,7.26 L245.81,7.26 L246.36,7.26 L246.91,7.27 L247.46,7.27 L248.02,7.27 L248.57,7.27 L249.12,7.27 L249.68,7.27 L250.23,7.28 L250.78,7.28 L251.33,7.28 L251.88,7.28 L252.44,7.28 L252.99,7.28 L253.54,7.28 L254.09,7.29 L254.65,7.29 L255.20,7.29 L255.75,7.29 L256.31,7.29 L256.86,7.29 L257.41,7.29 L257.96,7.30 L258.52,7.30 L259.07,7.30 L259.62,7.30 L260.17,7.30 L260.73,7.30 L261.28,7.30 L261.83,7.30 L262.38,7.30 L262.93,7.31 L263.49,7.31 L264.04,7.31 L264.59,7.31 L265.14,7.31 L265.70,7.31 L266.25,7.31 L266.80,7.31 L267.36,7.31 L267.91,7.31 L268.46,7.32 L269.01,7.32 L269.57,7.32 L270.12,7.32 L270.67,7.32 L271.22,7.32 L271.77,7.32 L272.33,7.32 L272.88,7.32 L273.43,7.32 L273.99,7.32 L274.54,7.32 L275.09,7.32 L275.64,7.32 L276.20,7.33 L276.75,7.33 L277.30,7.33 L277.85,7.33 L278.40,7.33 L278.96,7.33 L279.51,7.33 L280.06,7.33 L280.61,7.33 L281.17,7.33 L281.72,7.33 L282.27,7.33 L282.83,7.33 L283.38,7.33 L283.93,7.33 L284.48,7.33 L285.03,7.33 L285.59,7.34 L286.14,7.34 L286.69,7.34 L287.25,7.34 L287.80,7.34 L288.35,7.34 L288.90,7.34 L289.45,7.34 L290.01,7.34 L290.56,7.34 L291.11,7.34 L291.67,7.34 L292.22,7.34 L292.77,7.34 L293.32,7.34 L293.88,7.34 L294.43,7.34 L294.98,7.34 L295.53,7.34 L296.09,7.34 L296.64,7.34 L297.19,7.34 L297.74,7.34 L298.29,7.34 L298.85,7.34 L299.40,7.34 L299.95,7.34 L300.50,7.33 L301.06,7.33 L301.61,7.33 L302.16,7.33 L302.71,7.33 L303.27,7.33 L303.82,7.33 L304.37,7.33 L304.93,7.33 L305.48,7.33 L306.03,7.33 L306.58,7.33 L307.13,7.32 L307.69,7.32 L308.24,7.32 L308.79,7.32 L309.34,7.32 L309.90,7.32 L310.45,7.32 L311.00,7.32 L311.56,7.32 L312.11,7.32 L312.66,7.32 L313.21,7.32 L313.77,7.31 L314.32,7.31 L314.87,7.31 L315.42,7.31 L315.98,7.31 L316.53,7.31 L317.08,7.31 L317.63,7.31 L318.18,7.31 L318.74,7.31 L319.29,7.31 L319.84,7.31 L320.39,7.31 L320.95,7.31 L321.50,7.30 L322.05,7.30 L322.61,7.30 L323.16,7.30 L323.71,7.30 L324.26,7.30 L324.82,7.30 L325.37,7.30 L325.92,7.30 L326.47,7.30 L327.02,7.30 L327.58,7.30 L328.13,7.30 L328.68,7.29 L329.24,7.29 L329.79,7.29 L330.34,7.29 L330.89,7.29 L331.45,7.29 L332.00,7.29 L332.55,7.29 L333.10,7.29 L333.65,7.29 L334.21,7.29 L334.76,7.28 L335.31,7.28 L335.86,7.28 L336.42,7.28 L336.97,7.28 L337.52,7.28 L338.08,7.28 L338.63,7.28 L339.18,7.28 L339.73,7.27 L340.29,7.27 L340.84,7.27 L341.39,7.27 L341.94,7.27 L342.50,7.27 L343.05,7.27 L343.60,7.26 L344.15,7.26 L344.70,7.26 L345.26,7.26 L345.81,7.26 L346.36,7.26 L346.91,7.25 L347.47,7.25 L348.02,7.25 L348.57,7.25 L349.13,7.25 L349.68,7.25 L350.23,7.24 L350.78,7.24 L351.34,7.24 L351.89,7.24 L352.44,7.24 L352.99,7.24 L353.54,7.23 L354.10,7.23 L354.65,7.23 L355.20,7.23 L355.75,7.23 L356.31,7.23 L356.86,7.23 L357.41,7.23 L357.97,7.22 L358.52,7.22 L359.07,7.22 L359.62,7.22 L360.18,7.22 L360.73,7.22 L361.28,7.22 L361.83,7.22 L362.38,7.21 L362.94,7.21 L363.49,7.21 L364.04,7.21 L364.59,7.21 L365.15,7.21 L365.70,7.21 L366.25,7.21 L366.80,7.21 L367.36,7.20 L367.91,7.20 L368.46,7.20 L369.01,7.20 L369.57,7.20 L370.12,7.20 L370.67,7.20 L371.23,7.20 L371.78,7.20 L372.33,7.19 L372.88,7.19 L373.43,7.19 L373.99,7.19 L374.54,7.19 L375.09,7.19 L375.64,7.19 L376.20,7.19 L376.75,7.19 L377.30,7.18 L377.86,7.18 L378.41,7.18 L378.96,7.18 L379.51,7.18 L380.07,7.18 L380.62,7.18 L381.17,7.17 L381.72,7.17 L382.27,7.17 L382.83,7.17 L383.38,7.17 L383.93,7.17 L384.49,7.16 L385.04,7.16 L385.59,7.16 L386.14,7.16 L386.70,7.16 L387.25,7.16 L387.80,7.15 L388.35,7.15 L388.90,7.15 L389.46,7.15 L390.01,7.15 L390.56,7.15 L391.11,7.14 L391.67,7.14 L392.22,7.14 L392.77,7.14 L393.33,7.14 L393.88,7.14 L394.43,7.13 L394.98,7.13 L395.54,7.13 L396.09,7.13 L396.64,7.13 L397.19,7.13 L397.75,7.13 L398.30,7.12 L398.85,7.12 L399.40,7.12 L399.95,7.12 L400.51,7.12 L401.06,7.12 L401.61,7.12 L402.16,7.12 L402.72,7.11 L403.27,7.11 L403.82,7.11 L404.38,7.11 L404.93,7.11 L405.48,7.11 L406.03,7.11 L406.59,7.11 L407.14,7.10 L407.69,7.10 L408.24,7.10 L408.79,7.10 L409.35,7.10 L409.90,7.10 L410.45,7.10 L411.00,7.10 L411.56,7.10 L412.11,7.09 L412.66,7.09 L413.22,7.09 L413.77,7.09 L414.32,7.09 L414.87,7.09 L415.43,7.09 L415.98,7.09 L416.53,7.09 L417.08,7.09 L417.63,7.09 L418.19,7.09 L418.74,7.09 L419.29,7.09 L419.84,7.09 L420.40,7.09 L420.95,7.09 L421.50,7.09 L422.05,7.09 L422.61,7.09 L423.16,7.09 L423.71,7.09 L424.26,7.09 L424.82,7.09 L425.37,7.09 L425.92,7.09 L426.48,7.09 L427.03,7.09 L427.58,7.09 L428.13,7.09 L428.68,7.09 L429.24,7.09 L429.79,7.09 L430.34,7.09 L430.89,7.09 L431.45,7.09 L432.00,7.09 L432.55,7.09 L433.11,7.09 L433.66,7.09 L434.21,7.09 L434.76,7.09 L435.32,7.09 L435.87,7.09 L436.42,7.09 L436.97,7.09 L437.52,7.09 L438.08,7.09 L438.63,7.09 L439.18,7.09 L439.74,7.09 L440.29,7.09 L440.84,7.09 L441.39,7.09 L441.95,7.09 L442.50,7.09 L443.05,7.09 L443.60,7.09 L444.16,7.09 L444.71,7.09 L445.26,7.09 L445.81,7.09 L446.37,7.09 L446.92,7.09 L447.47,7.09 L448.02,7.09 L448.58,7.09 L449.13,7.09 L449.68,7.09 L450.23,7.09 L450.79,7.09 L451.34,7.09 L451.89,7.09 L452.44,7.09 L453.00,7.09 L453.55,7.09 L454.10,7.09 L454.65,7.09 L455.20,7.09 L455.76,7.09 L456.31,7.09 L456.86,7.09 L457.42,7.09 L457.97,7.09 L458.52,7.09 L459.07,7.09 L459.62,7.09 L460.18,7.09 L460.73,7.09 L461.28,7.09 L461.84,7.09 L462.39,7.09 L462.94,7.09 L463.49,7.09 L464.04,7.09 L464.60,7.09 L465.15,7.09 L465.70,7.09 L466.25,7.09 L466.81,7.09 L467.36,7.09 L467.91,7.09 L468.46,7.09 L469.02,7.09 L469.57,7.09 L470.12,7.09 L470.68,7.09 L471.23,7.09 L471.78,7.09 L472.33,7.09 L472.88,7.09 L473.44,7.09 L473.99,7.09 L474.54,7.09 L475.09,7.09 L475.65,7.09 L476.20,7.09 L476.75,7.09 L477.31,7.09 L477.86,7.09 L478.41,7.10 L478.96,7.10 L479.51,7.10 L480.07,7.10 L480.62,7.10 L481.17,7.10 L481.73,7.10 L482.28,7.10 L482.83,7.10 L483.38,7.10 L483.93,7.10 L484.49,7.10 L485.04,7.10 L485.59,7.10 L486.14,7.10 L486.70,7.10 L487.25,7.10 L487.80,7.10 L488.36,7.10 L488.91,7.10 L489.46,7.10 L490.01,7.10 L490.56,7.10 L491.12,7.10 L491.67,7.10 L492.22,7.10 L492.77,7.10 L493.33,7.10 L493.88,7.10 L494.43,7.10 L494.99,7.10 L495.54,7.11 L496.09,7.11 L496.64,7.11 L497.20,7.11 L497.75,7.11 L498.30,7.11 L498.85,7.11 L499.41,7.11 L499.96,7.11 L500.51,7.11 L501.06,7.11 L501.62,7.11 L502.17,7.11 L502.72,7.11 L503.27,7.11 L503.82,7.11 L504.38,7.11 L504.93,7.11 L505.48,7.11 L506.04,7.11 L506.59,7.11 L507.14,7.11 L507.69,7.11 L508.25,7.11 L508.80,7.11 L509.35,7.11 L509.90,7.11 L510.45,7.11 L511.01,7.11 L511.56,7.11 L512.11,7.11 L512.67,7.11 L513.22,7.11 L513.77,7.11 L514.32,7.11 L514.88,7.11 L515.43,7.11 L515.98,7.11 L516.53,7.11 L517.09,7.11 L517.64,7.11 L518.19,7.11 L518.74,7.11 L519.29,7.11 L519.85,7.11 L520.40,7.11 L520.95,7.11 L521.50,7.11 L522.06,7.11 L522.61,7.11 L523.16,7.11 L523.71,7.11 L524.27,7.11 L524.82,7.11 L525.37,7.11 L525.93,7.11 L526.48,7.11 L527.03,7.11 L527.58,7.11 L528.13,7.11 L528.69,7.11 L529.24,7.11 L529.79,7.11 L530.35,7.11 L530.90,7.11 L531.45,7.11 L532.00,7.11 L532.56,7.11 L533.11,7.11 L533.66,7.11 L534.21,7.11 L534.76,7.11 L535.32,7.11 L535.87,7.11 L536.42,7.11 L536.98,7.11 L537.53,7.11 L538.08,7.11 L538.63,7.11 L539.18,7.11 L539.74,7.11 L540.29,7.11 L540.84,7.11 L541.39,7.11 L541.95,7.11 L542.50,7.11 L543.05,7.11 L543.61,7.11 L544.16,7.11 L544.71,7.11 L545.26,7.11 L545.81,7.11 L546.37,7.11 L546.92,7.11 L547.47,7.11 L548.03,7.11 L548.58,7.11 L549.13,7.11 L549.68,7.11 L550.24,7.11 L550.79,7.11 L551.34,7.11 L551.89,7.11 L552.45,7.11 L553.00,7.11 L553.55,7.11 L554.10,7.11 L554.66,7.11 L555.21,7.11 L555.76,7.11 L556.31,7.11 L556.87,7.11 L557.42,7.10 L557.97,7.10 L558.52,7.10 L559.07,7.10 L559.63,7.10 L560.18,7.10 L560.73,7.10 L561.28,7.10 L561.84,7.10 L562.39,7.10 L562.94,7.10 L563.50,7.10 L564.05,7.09 L564.60,7.09 L565.15,7.09 L565.70,7.09 L566.26,7.09 L566.81,7.09 L567.36,7.09 L567.92,7.09 L568.47,7.09 L569.02,7.09 L569.57,7.09 L570.12,7.08 L570.68,7.08 L571.23,7.08 L571.78,7.08 L572.34,7.08 L572.89,7.08 L573.44,7.08 L573.99,7.08 L574.54,7.08 L575.10,7.08 L575.65,7.07 L576.20,7.07 L576.75,7.07 L577.31,7.07 L577.86,7.07 L578.41,7.07 L578.96,7.07 L579.52,7.07 L580.07,7.07 L580.62,7.06 L581.18,7.06 L581.73,7.06 L582.28,7.06 L582.83,7.06 L583.38,7.06 L583.94,7.06 L584.49,7.06 L585.04,7.06 L585.60,7.05 L586.15,7.05 L586.70,7.05 L587.25,7.05 L587.81,7.05 L588.36,7.05 L588.91,7.05 L589.46,7.05 L590.02,7.05 L590.57,7.04 L591.12,7.04 L591.67,7.04 L592.23,7.04 L592.78,7.04 L593.33,7.04 L593.88,7.04 L594.43,7.04 L594.99,7.04 L595.54,7.03 L596.09,7.03 L596.64,7.03 L597.20,7.03 L597.75,7.03 L598.30,7.03 L598.86,7.03 L599.41,7.02 L599.96,7.02 L600.51,7.02 L601.07,7.02 L601.62,7.02 L602.17,7.02 L602.72,7.02 L603.28,7.02 L603.83,7.01 L604.38,7.01 L604.93,7.01 L605.49,7.01 L606.04,7.01 L606.59,7.01 L607.14,7.01 L607.70,7.01 L608.25,7.01 L608.80,7.01 L609.35,7.01 L609.91,7.01 L610.46,7.01 L611.01,7.01 L611.56,7.01 L612.12,7.01 L612.67,7.01 L613.22,7.01 L613.77,7.01 L614.32,7.01 L614.88,7.01 L615.43,7.01 L615.98,7.01 L616.53,7.01 L617.09,7.01 L617.64,7.01 L618.19,7.01 L618.75,7.01 L619.30,7.01 L619.85,7.01 L620.40,7.01 L620.96,7.01 L621.51,7.01 L622.06,7.01 L622.61,7.01 L623.17,7.01 L623.72,7.01 L624.27,7.01 L624.82,7.01 L625.38,7.02 L625.93,7.02 L626.48,7.02 L627.03,7.02 L627.59,7.02 L628.14,7.02 L628.69,7.02 L629.24,7.02 L629.79,7.02 L630.35,7.02 L630.90,7.02 L631.45,7.02 L632.00,7.03 L632.56,7.03 L633.11,7.03 L633.66,7.03 L634.21,7.03 L634.77,7.03 L635.32,7.03 L635.87,7.03 L636.43,7.04 L636.98,7.04 L637.53,7.04 L638.08,7.04 L638.63,7.05 L639.19,7.05 L639.74,7.05 L640.29,7.06 L640.85,7.06 L641.40,7.06 L641.95,7.07 L642.50,7.07 L643.06,7.08 L643.61,7.08 L644.16,7.08 L644.71,7.09 L645.27,7.09 L645.82,7.10 L646.37,7.10 L646.92,7.11 L647.48,7.11 L648.03,7.12 L648.58,7.12 L649.13,7.13 L649.68,7.13 L650.24,7.14 L650.79,7.14 L651.34,7.15 L651.89,7.16 L652.45,7.16 L653.00,7.17 L653.55,7.17 L654.11,7.18 L654.66,7.19 L655.21,7.20 L655.76,7.20 L656.32,7.21 L656.87,7.22 L657.42,7.23 L657.97,7.24 L658.53,7.25 L659.08,7.26 L659.63,7.27 L660.18,7.29 L660.74,7.30 L661.29,7.31 L661.84,7.32 L662.39,7.33 L662.95,7.35 L663.50,7.36 L664.05,7.37 L664.60,7.39 L665.16,7.40 L665.71,7.41 L666.26,7.43 L666.81,7.44 L667.37,7.46 L667.92,7.47 L668.47,7.49 L669.02,7.50 L669.57,7.51 L670.13,7.53 L670.68,7.54 L671.23,7.56 L671.78,7.57 L672.34,7.59 L672.89,7.61 L673.44,7.63 L674.00,7.65 L674.55,7.66 L675.10,7.68" fill="none" stroke="#ff0000" stroke-width="4.7" stroke-dasharray="15 14.6"/>
<rect x="241.6" y="212.9" width="93.60" height="73.20" fill="#fff" stroke="#3a3a3a" stroke-width="1.5"/>
<line x1="247.10" y1="232.65" x2="294.80" y2="232.65" stroke="#0072bd" stroke-width="4.7" />
<line x1="247.10" y1="266.80" x2="294.80" y2="266.80" stroke="#ff0000" stroke-width="4.7" stroke-dasharray="15 14.6"/>
<text x="299.90" y="236.90" text-anchor="start" font-size="21.2" >S</text>
<text x="312.80" y="246.40" text-anchor="start" font-size="16.5" >11</text>
<text x="299.90" y="270.90" text-anchor="start" font-size="21.2" >S</text>
<text x="311.60" y="280.90" text-anchor="start" font-size="16.5" >21</text>
<rect x="151.1" y="40.4" width="424.75" height="53.90" fill="#fff"/>
<line x1="189.71" y1="40.40" x2="189.71" y2="94.30" stroke="#dedede" stroke-width="1.0" />
<line x1="266.94" y1="40.40" x2="266.94" y2="94.30" stroke="#dedede" stroke-width="1.0" />
<line x1="344.17" y1="40.40" x2="344.17" y2="94.30" stroke="#dedede" stroke-width="1.0" />
<line x1="421.40" y1="40.40" x2="421.40" y2="94.30" stroke="#dedede" stroke-width="1.0" />
<line x1="498.62" y1="40.40" x2="498.62" y2="94.30" stroke="#dedede" stroke-width="1.0" />
<line x1="151.10" y1="67.35" x2="575.85" y2="67.35" stroke="#dedede" stroke-width="1.0" />
<rect x="151.1" y="40.4" width="424.75" height="53.90" fill="none" stroke="#3a3a3a" stroke-width="1.5"/>
<line x1="189.71" y1="94.30" x2="189.71" y2="89.50" stroke="#3a3a3a" stroke-width="1.5" />
<line x1="189.71" y1="40.40" x2="189.71" y2="45.20" stroke="#3a3a3a" stroke-width="1.5" />
<line x1="266.94" y1="94.30" x2="266.94" y2="89.50" stroke="#3a3a3a" stroke-width="1.5" />
<line x1="266.94" y1="40.40" x2="266.94" y2="45.20" stroke="#3a3a3a" stroke-width="1.5" />
<line x1="344.17" y1="94.30" x2="344.17" y2="89.50" stroke="#3a3a3a" stroke-width="1.5" />
<line x1="344.17" y1="40.40" x2="344.17" y2="45.20" stroke="#3a3a3a" stroke-width="1.5" />
<line x1="421.40" y1="94.30" x2="421.40" y2="89.50" stroke="#3a3a3a" stroke-width="1.5" />
<line x1="421.40" y1="40.40" x2="421.40" y2="45.20" stroke="#3a3a3a" stroke-width="1.5" />
<line x1="498.62" y1="94.30" x2="498.62" y2="89.50" stroke="#3a3a3a" stroke-width="1.5" />
<line x1="498.62" y1="40.40" x2="498.62" y2="45.20" stroke="#3a3a3a" stroke-width="1.5" />
<line x1="151.10" y1="67.35" x2="155.90" y2="67.35" stroke="#3a3a3a" stroke-width="1.5" />
<line x1="575.85" y1="67.35" x2="571.05" y2="67.35" stroke="#3a3a3a" stroke-width="1.5" />
<text x="151.10" y="123.60" text-anchor="middle" font-size="22.4" >18</text>
<text x="189.71" y="123.60" text-anchor="middle" font-size="22.4" >20</text>
<text x="266.94" y="123.60" text-anchor="middle" font-size="22.4" >24</text>
<text x="344.17" y="123.60" text-anchor="middle" font-size="22.4" >28</text>
<text x="421.40" y="123.60" text-anchor="middle" font-size="22.4" >32</text>
<text x="498.62" y="123.60" text-anchor="middle" font-size="22.4" >36</text>
<text x="575.85" y="123.60" text-anchor="middle" font-size="22.4" >40</text>
<text x="141.60" y="48.80" text-anchor="end" font-size="22.4" >0</text>
<text x="141.60" y="75.75" text-anchor="end" font-size="22.4" >-0.2</text>
<text x="141.60" y="102.70" text-anchor="end" font-size="22.4" >-0.4</text>
<path d="M151.10,85.68 L151.49,84.99 L151.87,84.31 L152.26,83.63 L152.64,82.96 L153.03,82.29 L153.42,81.62 L153.80,80.97 L154.19,80.32 L154.58,79.67 L154.96,79.03 L155.35,78.40 L155.73,77.77 L156.12,77.15 L156.51,76.53 L156.89,75.93 L157.28,75.33 L157.66,74.73 L158.05,74.15 L158.44,73.57 L158.82,72.99 L159.21,72.42 L159.60,71.85 L159.98,71.28 L160.37,70.72 L160.75,70.16 L161.14,69.60 L161.53,69.04 L161.91,68.49 L162.30,67.94 L162.68,67.40 L163.07,66.87 L163.46,66.34 L163.84,65.82 L164.23,65.31 L164.61,64.80 L165.00,64.31 L165.39,63.82 L165.77,63.34 L166.16,62.88 L166.55,62.42 L166.93,61.97 L167.32,61.54 L167.70,61.12 L168.09,60.71 L168.48,60.30 L168.86,59.90 L169.25,59.51 L169.63,59.12 L170.02,58.73 L170.41,58.35 L170.79,57.98 L171.18,57.60 L171.57,57.24 L171.95,56.88 L172.34,56.53 L172.72,56.18 L173.11,55.83 L173.50,55.49 L173.88,55.16 L174.27,54.84 L174.65,54.52 L175.04,54.20 L175.43,53.89 L175.81,53.59 L176.20,53.29 L176.59,53.00 L176.97,52.72 L177.36,52.44 L177.74,52.17 L178.13,51.90 L178.52,51.64 L178.90,51.39 L179.29,51.13 L179.67,50.88 L180.06,50.63 L180.45,50.38 L180.83,50.14 L181.22,49.90 L181.60,49.66 L181.99,49.42 L182.38,49.18 L182.76,48.95 L183.15,48.73 L183.54,48.50 L183.92,48.28 L184.31,48.06 L184.69,47.85 L185.08,47.64 L185.47,47.43 L185.85,47.22 L186.24,47.03 L186.62,46.83 L187.01,46.64 L187.40,46.45 L187.78,46.27 L188.17,46.09 L188.56,45.92 L188.94,45.75 L189.33,45.58 L189.71,45.42 L190.10,45.27 L190.49,45.12 L190.87,44.97 L191.26,44.83 L191.64,44.70 L192.03,44.57 L192.42,44.44 L192.80,44.31 L193.19,44.18 L193.57,44.05 L193.96,43.92 L194.35,43.79 L194.73,43.67 L195.12,43.54 L195.51,43.42 L195.89,43.30 L196.28,43.18 L196.66,43.06 L197.05,42.95 L197.44,42.83 L197.82,42.72 L198.21,42.61 L198.59,42.51 L198.98,42.41 L199.37,42.31 L199.75,42.21 L200.14,42.12 L200.53,42.03 L200.91,41.94 L201.30,41.86 L201.68,41.78 L202.07,41.70 L202.46,41.63 L202.84,41.56 L203.23,41.50 L203.61,41.44 L204.00,41.38 L204.39,41.33 L204.77,41.29 L205.16,41.25 L205.55,41.21 L205.93,41.18 L206.32,41.15 L206.70,41.12 L207.09,41.09 L207.48,41.06 L207.86,41.03 L208.25,41.00 L208.63,40.97 L209.02,40.94 L209.41,40.92 L209.79,40.89 L210.18,40.86 L210.56,40.84 L210.95,40.81 L211.34,40.79 L211.72,40.77 L212.11,40.74 L212.50,40.72 L212.88,40.70 L213.27,40.68 L213.65,40.66 L214.04,40.64 L214.43,40.62 L214.81,40.61 L215.20,40.59 L215.58,40.57 L215.97,40.56 L216.36,40.55 L216.74,40.53 L217.13,40.52 L217.52,40.51 L217.90,40.50 L218.29,40.49 L218.67,40.49 L219.06,40.48 L219.45,40.48 L219.83,40.47 L220.22,40.47 L220.60,40.47 L220.99,40.47 L221.38,40.47 L221.76,40.48 L222.15,40.48 L222.54,40.50 L222.92,40.51 L223.31,40.53 L223.69,40.55 L224.08,40.57 L224.47,40.60 L224.85,40.62 L225.24,40.65 L225.62,40.68 L226.01,40.72 L226.40,40.75 L226.78,40.79 L227.17,40.82 L227.56,40.86 L227.94,40.90 L228.33,40.94 L228.71,40.98 L229.10,41.03 L229.49,41.07 L229.87,41.11 L230.26,41.15 L230.64,41.20 L231.03,41.24 L231.42,41.28 L231.80,41.33 L232.19,41.37 L232.57,41.41 L232.96,41.45 L233.35,41.49 L233.73,41.53 L234.12,41.57 L234.51,41.61 L234.89,41.64 L235.28,41.67 L235.66,41.71 L236.05,41.74 L236.44,41.77 L236.82,41.80 L237.21,41.83 L237.59,41.86 L237.98,41.89 L238.37,41.92 L238.75,41.95 L239.14,41.98 L239.53,42.01 L239.91,42.04 L240.30,42.07 L240.68,42.10 L241.07,42.12 L241.46,42.15 L241.84,42.18 L242.23,42.21 L242.61,42.24 L243.00,42.27 L243.39,42.30 L243.77,42.33 L244.16,42.36 L244.54,42.39 L244.93,42.42 L245.32,42.45 L245.70,42.48 L246.09,42.52 L246.48,42.55 L246.86,42.58 L247.25,42.61 L247.63,42.65 L248.02,42.68 L248.41,42.72 L248.79,42.75 L249.18,42.79 L249.56,42.82 L249.95,42.86 L250.34,42.90 L250.72,42.94 L251.11,42.98 L251.50,43.02 L251.88,43.07 L252.27,43.11 L252.65,43.15 L253.04,43.20 L253.43,43.25 L253.81,43.30 L254.20,43.35 L254.58,43.39 L254.97,43.45 L255.36,43.50 L255.74,43.55 L256.13,43.60 L256.52,43.65 L256.90,43.71 L257.29,43.76 L257.67,43.81 L258.06,43.87 L258.45,43.92 L258.83,43.98 L259.22,44.03 L259.60,44.09 L259.99,44.14 L260.38,44.20 L260.76,44.25 L261.15,44.30 L261.53,44.36 L261.92,44.41 L262.31,44.46 L262.69,44.52 L263.08,44.57 L263.47,44.62 L263.85,44.67 L264.24,44.72 L264.62,44.77 L265.01,44.82 L265.40,44.87 L265.78,44.92 L266.17,44.97 L266.55,45.02 L266.94,45.07 L267.33,45.12 L267.71,45.17 L268.10,45.22 L268.49,45.27 L268.87,45.32 L269.26,45.37 L269.64,45.42 L270.03,45.47 L270.42,45.53 L270.80,45.58 L271.19,45.63 L271.57,45.68 L271.96,45.73 L272.35,45.78 L272.73,45.83 L273.12,45.87 L273.51,45.92 L273.89,45.97 L274.28,46.02 L274.66,46.06 L275.05,46.11 L275.44,46.15 L275.82,46.20 L276.21,46.24 L276.59,46.28 L276.98,46.32 L277.37,46.36 L277.75,46.40 L278.14,46.44 L278.53,46.48 L278.91,46.51 L279.30,46.55 L279.68,46.58 L280.07,46.61 L280.46,46.64 L280.84,46.67 L281.23,46.71 L281.61,46.74 L282.00,46.77 L282.39,46.80 L282.77,46.82 L283.16,46.85 L283.54,46.88 L283.93,46.91 L284.32,46.94 L284.70,46.97 L285.09,46.99 L285.48,47.02 L285.86,47.05 L286.25,47.07 L286.63,47.10 L287.02,47.12 L287.41,47.15 L287.79,47.17 L288.18,47.19 L288.56,47.22 L288.95,47.24 L289.34,47.26 L289.72,47.28 L290.11,47.30 L290.50,47.32 L290.88,47.34 L291.27,47.36 L291.65,47.38 L292.04,47.40 L292.43,47.42 L292.81,47.44 L293.20,47.45 L293.58,47.47 L293.97,47.48 L294.36,47.50 L294.74,47.51 L295.13,47.53 L295.51,47.54 L295.90,47.56 L296.29,47.57 L296.67,47.59 L297.06,47.60 L297.45,47.62 L297.83,47.63 L298.22,47.65 L298.60,47.66 L298.99,47.68 L299.38,47.69 L299.76,47.70 L300.15,47.72 L300.53,47.73 L300.92,47.74 L301.31,47.76 L301.69,47.77 L302.08,47.78 L302.47,47.79 L302.85,47.80 L303.24,47.81 L303.62,47.83 L304.01,47.83 L304.40,47.84 L304.78,47.85 L305.17,47.86 L305.55,47.87 L305.94,47.88 L306.33,47.88 L306.71,47.89 L307.10,47.89 L307.49,47.90 L307.87,47.90 L308.26,47.90 L308.64,47.90 L309.03,47.91 L309.42,47.91 L309.80,47.90 L310.19,47.90 L310.57,47.90 L310.96,47.89 L311.35,47.89 L311.73,47.88 L312.12,47.87 L312.50,47.86 L312.89,47.85 L313.28,47.84 L313.66,47.82 L314.05,47.81 L314.44,47.79 L314.82,47.78 L315.21,47.76 L315.59,47.75 L315.98,47.73 L316.37,47.71 L316.75,47.69 L317.14,47.67 L317.52,47.65 L317.91,47.63 L318.30,47.61 L318.68,47.59 L319.07,47.57 L319.46,47.55 L319.84,47.53 L320.23,47.51 L320.61,47.50 L321.00,47.48 L321.39,47.46 L321.77,47.44 L322.16,47.42 L322.54,47.40 L322.93,47.38 L323.32,47.36 L323.70,47.35 L324.09,47.33 L324.48,47.32 L324.86,47.30 L325.25,47.28 L325.63,47.27 L326.02,47.25 L326.41,47.24 L326.79,47.22 L327.18,47.21 L327.56,47.19 L327.95,47.17 L328.34,47.16 L328.72,47.14 L329.11,47.13 L329.50,47.11 L329.88,47.09 L330.27,47.08 L330.65,47.06 L331.04,47.05 L331.43,47.03 L331.81,47.01 L332.20,47.00 L332.58,46.98 L332.97,46.96 L333.36,46.94 L333.74,46.93 L334.13,46.91 L334.51,46.89 L334.90,46.87 L335.29,46.85 L335.67,46.83 L336.06,46.81 L336.45,46.79 L336.83,46.77 L337.22,46.75 L337.60,46.73 L337.99,46.71 L338.38,46.69 L338.76,46.66 L339.15,46.64 L339.53,46.61 L339.92,46.59 L340.31,46.56 L340.69,46.53 L341.08,46.50 L341.47,46.47 L341.85,46.44 L342.24,46.41 L342.62,46.38 L343.01,46.35 L343.40,46.31 L343.78,46.28 L344.17,46.24 L344.55,46.21 L344.94,46.17 L345.33,46.14 L345.71,46.10 L346.10,46.07 L346.49,46.03 L346.87,45.99 L347.26,45.96 L347.64,45.92 L348.03,45.88 L348.42,45.85 L348.80,45.81 L349.19,45.77 L349.57,45.74 L349.96,45.70 L350.35,45.67 L350.73,45.63 L351.12,45.60 L351.50,45.57 L351.89,45.54 L352.28,45.50 L352.66,45.47 L353.05,45.44 L353.44,45.41 L353.82,45.38 L354.21,45.36 L354.59,45.33 L354.98,45.30 L355.37,45.27 L355.75,45.25 L356.14,45.22 L356.52,45.20 L356.91,45.17 L357.30,45.15 L357.68,45.12 L358.07,45.10 L358.46,45.07 L358.84,45.05 L359.23,45.03 L359.61,45.00 L360.00,44.98 L360.39,44.96 L360.77,44.93 L361.16,44.91 L361.54,44.88 L361.93,44.86 L362.32,44.84 L362.70,44.81 L363.09,44.79 L363.48,44.77 L363.86,44.74 L364.25,44.72 L364.63,44.69 L365.02,44.67 L365.41,44.64 L365.79,44.62 L366.18,44.59 L366.56,44.56 L366.95,44.54 L367.34,44.51 L367.72,44.48 L368.11,44.45 L368.49,44.43 L368.88,44.40 L369.27,44.37 L369.65,44.33 L370.04,44.30 L370.43,44.27 L370.81,44.23 L371.20,44.20 L371.58,44.16 L371.97,44.13 L372.36,44.09 L372.74,44.05 L373.13,44.02 L373.51,43.98 L373.90,43.94 L374.29,43.90 L374.67,43.86 L375.06,43.82 L375.45,43.78 L375.83,43.74 L376.22,43.71 L376.60,43.67 L376.99,43.63 L377.38,43.59 L377.76,43.55 L378.15,43.51 L378.53,43.48 L378.92,43.44 L379.31,43.40 L379.69,43.37 L380.08,43.33 L380.47,43.30 L380.85,43.27 L381.24,43.23 L381.62,43.20 L382.01,43.17 L382.40,43.15 L382.78,43.12 L383.17,43.09 L383.55,43.06 L383.94,43.04 L384.33,43.01 L384.71,42.98 L385.10,42.96 L385.48,42.93 L385.87,42.90 L386.26,42.87 L386.64,42.85 L387.03,42.82 L387.42,42.79 L387.80,42.76 L388.19,42.74 L388.57,42.71 L388.96,42.68 L389.35,42.66 L389.73,42.63 L390.12,42.61 L390.50,42.58 L390.89,42.56 L391.28,42.53 L391.66,42.51 L392.05,42.49 L392.44,42.47 L392.82,42.45 L393.21,42.43 L393.59,42.41 L393.98,42.40 L394.37,42.38 L394.75,42.37 L395.14,42.35 L395.52,42.34 L395.91,42.33 L396.30,42.32 L396.68,42.31 L397.07,42.31 L397.45,42.30 L397.84,42.30 L398.23,42.30 L398.61,42.30 L399.00,42.30 L399.39,42.30 L399.77,42.30 L400.16,42.30 L400.54,42.30 L400.93,42.30 L401.32,42.30 L401.70,42.30 L402.09,42.30 L402.47,42.30 L402.86,42.30 L403.25,42.30 L403.63,42.30 L404.02,42.30 L404.41,42.30 L404.79,42.30 L405.18,42.30 L405.56,42.30 L405.95,42.30 L406.34,42.30 L406.72,42.30 L407.11,42.30 L407.49,42.30 L407.88,42.30 L408.27,42.30 L408.65,42.30 L409.04,42.30 L409.43,42.30 L409.81,42.30 L410.20,42.30 L410.58,42.30 L410.97,42.30 L411.36,42.30 L411.74,42.30 L412.13,42.30 L412.51,42.30 L412.90,42.30 L413.29,42.30 L413.67,42.30 L414.06,42.30 L414.45,42.30 L414.83,42.30 L415.22,42.30 L415.60,42.30 L415.99,42.30 L416.38,42.30 L416.76,42.30 L417.15,42.30 L417.53,42.30 L417.92,42.30 L418.31,42.30 L418.69,42.30 L419.08,42.30 L419.46,42.31 L419.85,42.31 L420.24,42.31 L420.62,42.31 L421.01,42.31 L421.40,42.31 L421.78,42.31 L422.17,42.31 L422.55,42.31 L422.94,42.31 L423.33,42.31 L423.71,42.31 L424.10,42.32 L424.48,42.32 L424.87,42.32 L425.26,42.32 L425.64,42.32 L426.03,42.32 L426.42,42.32 L426.80,42.32 L427.19,42.32 L427.57,42.33 L427.96,42.33 L428.35,42.33 L428.73,42.33 L429.12,42.33 L429.50,42.34 L429.89,42.34 L430.28,42.34 L430.66,42.35 L431.05,42.36 L431.43,42.36 L431.82,42.37 L432.21,42.37 L432.59,42.38 L432.98,42.39 L433.37,42.40 L433.75,42.40 L434.14,42.41 L434.52,42.42 L434.91,42.43 L435.30,42.44 L435.68,42.45 L436.07,42.45 L436.45,42.46 L436.84,42.47 L437.23,42.48 L437.61,42.49 L438.00,42.50 L438.39,42.51 L438.77,42.52 L439.16,42.53 L439.54,42.54 L439.93,42.54 L440.32,42.55 L440.70,42.56 L441.09,42.57 L441.47,42.57 L441.86,42.58 L442.25,42.59 L442.63,42.60 L443.02,42.60 L443.41,42.61 L443.79,42.61 L444.18,42.62 L444.56,42.63 L444.95,42.63 L445.34,42.64 L445.72,42.65 L446.11,42.65 L446.49,42.66 L446.88,42.67 L447.27,42.67 L447.65,42.68 L448.04,42.69 L448.42,42.69 L448.81,42.70 L449.20,42.71 L449.58,42.71 L449.97,42.72 L450.36,42.73 L450.74,42.73 L451.13,42.74 L451.51,42.74 L451.90,42.75 L452.29,42.75 L452.67,42.76 L453.06,42.76 L453.44,42.77 L453.83,42.77 L454.22,42.78 L454.60,42.78 L454.99,42.79 L455.38,42.79 L455.76,42.79 L456.15,42.79 L456.53,42.80 L456.92,42.80 L457.31,42.80 L457.69,42.80 L458.08,42.80 L458.46,42.80 L458.85,42.80 L459.24,42.80 L459.62,42.81 L460.01,42.81 L460.40,42.81 L460.78,42.81 L461.17,42.81 L461.55,42.81 L461.94,42.81 L462.33,42.81 L462.71,42.81 L463.10,42.81 L463.48,42.81 L463.87,42.81 L464.26,42.81 L464.64,42.81 L465.03,42.81 L465.41,42.81 L465.80,42.81 L466.19,42.82 L466.57,42.82 L466.96,42.82 L467.35,42.82 L467.73,42.82 L468.12,42.82 L468.50,42.82 L468.89,42.82 L469.28,42.82 L469.66,42.82 L470.05,42.82 L470.43,42.82 L470.82,42.82 L471.21,42.82 L471.59,42.82 L471.98,42.83 L472.37,42.83 L472.75,42.83 L473.14,42.83 L473.52,42.83 L473.91,42.83 L474.30,42.83 L474.68,42.84 L475.07,42.84 L475.45,42.84 L475.84,42.84 L476.23,42.85 L476.61,42.85 L477.00,42.85 L477.39,42.85 L477.77,42.85 L478.16,42.86 L478.54,42.86 L478.93,42.86 L479.32,42.86 L479.70,42.87 L480.09,42.87 L480.47,42.87 L480.86,42.87 L481.25,42.88 L481.63,42.88 L482.02,42.88 L482.40,42.88 L482.79,42.88 L483.18,42.88 L483.56,42.89 L483.95,42.89 L484.34,42.89 L484.72,42.89 L485.11,42.89 L485.49,42.89 L485.88,42.89 L486.27,42.89 L486.65,42.89 L487.04,42.89 L487.42,42.89 L487.81,42.89 L488.20,42.89 L488.58,42.88 L488.97,42.87 L489.36,42.87 L489.74,42.86 L490.13,42.85 L490.51,42.84 L490.90,42.83 L491.29,42.81 L491.67,42.80 L492.06,42.79 L492.44,42.77 L492.83,42.75 L493.22,42.74 L493.60,42.72 L493.99,42.70 L494.38,42.68 L494.76,42.67 L495.15,42.65 L495.53,42.63 L495.92,42.61 L496.31,42.59 L496.69,42.57 L497.08,42.55 L497.46,42.53 L497.85,42.51 L498.24,42.48 L498.62,42.46 L499.01,42.44 L499.39,42.42 L499.78,42.40 L500.17,42.38 L500.55,42.36 L500.94,42.34 L501.33,42.32 L501.71,42.30 L502.10,42.29 L502.48,42.27 L502.87,42.25 L503.26,42.23 L503.64,42.21 L504.03,42.19 L504.41,42.16 L504.80,42.14 L505.19,42.12 L505.57,42.10 L505.96,42.07 L506.35,42.05 L506.73,42.03 L507.12,42.00 L507.50,41.98 L507.89,41.96 L508.28,41.93 L508.66,41.91 L509.05,41.88 L509.43,41.86 L509.82,41.83 L510.21,41.81 L510.59,41.78 L510.98,41.76 L511.37,41.73 L511.75,41.71 L512.14,41.68 L512.52,41.66 L512.91,41.63 L513.30,41.61 L513.68,41.58 L514.07,41.56 L514.45,41.54 L514.84,41.51 L515.23,41.49 L515.61,41.46 L516.00,41.44 L516.38,41.42 L516.77,41.39 L517.16,41.37 L517.54,41.35 L517.93,41.32 L518.32,41.29 L518.70,41.27 L519.09,41.24 L519.47,41.21 L519.86,41.18 L520.25,41.15 L520.63,41.12 L521.02,41.09 L521.40,41.06 L521.79,41.03 L522.18,41.00 L522.56,40.97 L522.95,40.95 L523.34,40.92 L523.72,40.89 L524.11,40.86 L524.49,40.83 L524.88,40.80 L525.27,40.78 L525.65,40.75 L526.04,40.73 L526.42,40.71 L526.81,40.68 L527.20,40.66 L527.58,40.64 L527.97,40.62 L528.36,40.61 L528.74,40.59 L529.13,40.58 L529.51,40.57 L529.90,40.56 L530.29,40.55 L530.67,40.54 L531.06,40.54 L531.44,40.53 L531.83,40.53 L532.22,40.54 L532.60,40.54 L532.99,40.54 L533.38,40.54 L533.76,40.55 L534.15,40.55 L534.53,40.56 L534.92,40.56 L535.31,40.57 L535.69,40.58 L536.08,40.58 L536.46,40.59 L536.85,40.60 L537.24,40.61 L537.62,40.62 L538.01,40.63 L538.39,40.65 L538.78,40.66 L539.17,40.67 L539.55,40.68 L539.94,40.70 L540.33,40.71 L540.71,40.73 L541.10,40.74 L541.48,40.76 L541.87,40.77 L542.26,40.79 L542.64,40.81 L543.03,40.83 L543.41,40.85 L543.80,40.86 L544.19,40.88 L544.57,40.90 L544.96,40.92 L545.35,40.94 L545.73,40.96 L546.12,40.98 L546.50,41.01 L546.89,41.03 L547.28,41.06 L547.66,41.09 L548.05,41.13 L548.43,41.17 L548.82,41.22 L549.21,41.27 L549.59,41.32 L549.98,41.38 L550.37,41.44 L550.75,41.51 L551.14,41.58 L551.52,41.65 L551.91,41.73 L552.30,41.81 L552.68,41.89 L553.07,41.98 L553.45,42.06 L553.84,42.16 L554.23,42.25 L554.61,42.35 L555.00,42.45 L555.38,42.56 L555.77,42.66 L556.16,42.77 L556.54,42.88 L556.93,43.00 L557.32,43.11 L557.70,43.23 L558.09,43.35 L558.47,43.47 L558.86,43.59 L559.25,43.72 L559.63,43.85 L560.02,43.98 L560.40,44.11 L560.79,44.24 L561.18,44.39 L561.56,44.55 L561.95,44.72 L562.34,44.91 L562.72,45.10 L563.11,45.30 L563.49,45.52 L563.88,45.74 L564.27,45.97 L564.65,46.21 L565.04,46.46 L565.42,46.71 L565.81,46.97 L566.20,47.24 L566.58,47.52 L566.97,47.80 L567.36,48.08 L567.74,48.38 L568.13,48.67 L568.51,48.97 L568.90,49.28 L569.29,49.58 L569.67,49.89 L570.06,50.20 L570.44,50.52 L570.83,50.84 L571.22,51.15 L571.60,51.47 L571.99,51.79 L572.37,52.11 L572.76,52.43 L573.15,52.77 L573.53,53.13 L573.92,53.51 L574.31,53.89 L574.69,54.28 L575.08,54.68 L575.46,55.09 L575.85,55.49" fill="none" stroke="#ff0000" stroke-width="4.7" stroke-dasharray="15 14.6" stroke-dashoffset="1.2"/>
</svg>
</body></html>
